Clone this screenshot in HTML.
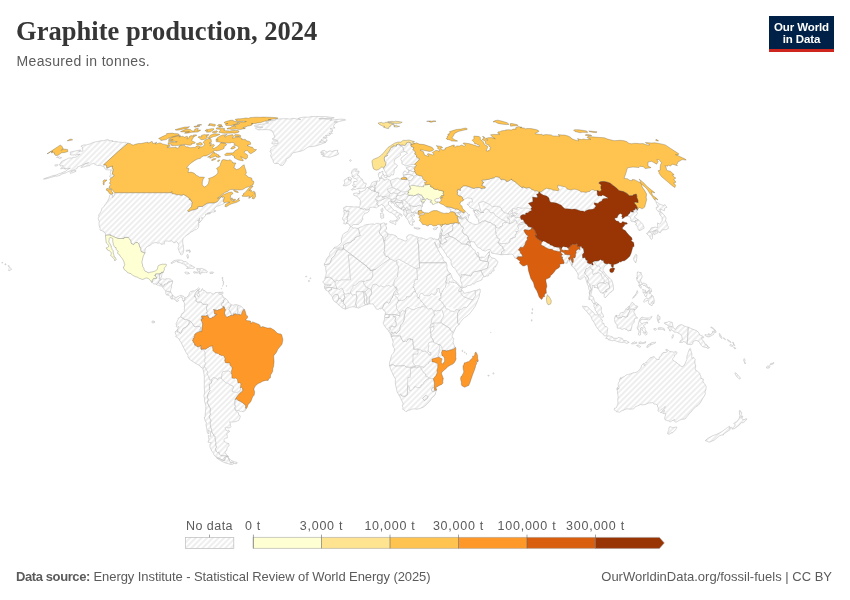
<!DOCTYPE html>
<html lang="en"><head><meta charset="utf-8"><title>Graphite production, 2024</title>
<style>
html,body{margin:0;padding:0;background:#fff;}
body{width:850px;height:600px;position:relative;overflow:hidden;font-family:"Liberation Sans",Arial,sans-serif;color:#5b5b5b;}
.title{position:absolute;left:16px;top:14.600px;font-family:"Liberation Serif","Times New Roman",serif;font-weight:bold;font-size:26.500px;line-height:32px;color:#363636;white-space:nowrap;letter-spacing:0.03px;}
.subtitle{position:absolute;left:16.500px;top:52px;font-size:14px;line-height:18px;letter-spacing:0.35px;color:#5b5b5b;white-space:nowrap;}
.logo{position:absolute;left:769px;top:16px;width:65px;height:33px;background:#002147;border-bottom:3px solid #ce261e;color:#fff;font-weight:bold;font-size:11.5px;line-height:12px;text-align:center;letter-spacing:-0.1px;}
.logo span{display:block;}
.logo span:first-child{margin-top:4.600px;}
#map{position:absolute;left:0;top:0;}
#map{stroke:#b4b4b4;}
#map path{stroke-width:0.5;stroke-linejoin:round;}
#map path.nf{stroke:none;}
#map path{stroke:inherit;}
.lg{position:absolute;font-size:12.500px;line-height:16px;color:#5b5b5b;white-space:nowrap;top:518px;transform:translateX(-50%);letter-spacing:0.75px;}
.foot{position:absolute;top:569px;font-size:13px;line-height:16px;color:#5b5b5b;white-space:nowrap;}
</style></head>
<body>
<div class="title">Graphite production, 2024</div>
<div class="subtitle">Measured in tonnes.</div>
<div class="logo"><span>Our World</span><span>in Data</span></div>
<svg id="map" width="850" height="600" viewBox="0 0 850 600">
<defs><pattern id="hatch" patternUnits="userSpaceOnUse" width="4" height="4" patternTransform="rotate(-45 2 2)"><rect x="-1" y="-1" width="6" height="6" fill="#fff" style="stroke:none"/><path d="M-1,2 l6,0" style="stroke:#cfcfcf;stroke-width:0.7"/></pattern></defs>
<path class="nf" fill="url(#hatch)" d="M220.8,378 216.1,378.1 213.1,377.5 211.4,379.8 209.8,380.2 208.6,376.6 207,373.7 207.5,371.1 206.2,370 205.7,368.1 204.4,366.4 205.6,363.5 204.4,361.3 204.9,360.4 204.4,359.5 205.2,358.2 205,356 205,354.1 205.4,353.2 203.2,349 212.7,345.9 224.4,356.4 230,363 232.1,367.9 232,378.1 240.7,383.2 240.4,387.7 238.5,392 231.9,391.3 233.6,387.3 227.7,383.2 221.3,378.6ZM375.2,199.6 379.2,192.7 376.4,192.2 374.9,189.9 387.3,189.4 392.7,187.4 400.9,191.7 408.5,192.5 407.7,194.3 409,195.5 404.4,200.1 410.1,205 410,209.9 411.4,212.5 407.4,213.8 406,210.2 402.6,207.1 403.1,203.2 401.6,200.6 396,198.1 391.2,199.1 388.3,198.3 384.2,198.1 380,199.9 376.9,200.4ZM421.1,201.7 420.4,198.3 416.9,194.8 421.2,195 423.5,198.1 424.5,199.4 422.6,199.1 422.2,199.6ZM408.6,180.4 410.6,180.4 412.4,179.4 412.7,178.2 414.1,177.2 413.7,176.2 414.8,175.7 416.7,174.7 418.8,175.5 419.3,176 420.2,175.7 422.2,176.2 422.6,177.4 422.4,178.2 423.8,179.7 424.7,180.2 424.6,180.7 426.1,181.2 426.8,181.7 426.2,182.4 424.5,182.2 424.2,182.4 424.8,183.4 425.7,184.9 423.9,185.2 423.4,185.7 423.7,186.9 422.8,186.7 421,186.7 420.4,186.2 419.6,186.7 418.8,186.2 417.4,186.2 414.9,185.7 412.9,185.4 411.5,185.4 410.4,186.2 409.5,186.2 409.3,185.2 408.5,183.9 409.7,183.4 409.5,182.4 408.8,181.4ZM336.5,288 350.5,293.2 356.2,291.6 362.9,291.6 367.9,289.3 371.2,289.8 372.3,285.1 394,284.8 397.1,288.5 398.5,294.3 396.1,304.2 399.8,314.4 405.6,311.3 407.9,307.3 426.1,306.8 434,311.3 441.3,309.4 444.3,306 459.6,310.2 472.9,299.5 461.2,291.6 460.1,287.7 449,283.3 441,295.6 417.2,296.9 414,287.5 417.5,279.6 416.9,269.2 396.5,260.5 389.9,259 372.7,270.2 351.9,255 348.3,255 350.3,279.9 335.9,281.7ZM430.5,332.2 434,323 441.2,322.9 441.3,309.4 434,311.3 431.2,323.8ZM413.3,354.4 418,349.2 428.2,353.6 433.8,342.1 442.3,350.5 441.5,356 444.6,362 442.7,364.3 438.9,357 432,359.1 437.7,364.8 436.8,373.5 433.4,378.7 426.1,380 419,387.6 409.5,388.1 407.9,377.4 410.4,368.2 420.1,366.4 412.9,362.5ZM481.3,212.5 483.5,201.4 489.8,204.5 498.3,206.3 501.3,208.1 504,212.8 508.4,214.1 512.2,209.9 517.2,209.4 522,208.1 531.7,209.9 520,216.1 523.6,220 525.2,223.4 518.2,225 515.6,237 509.9,242.2 498,242.5 495.6,234.1 495.7,227.1 502.6,225.5 506.2,222.6 500.3,218.7 493.9,213 489.1,210.2 483.6,212.5ZM539.7,192 546.6,188.2 559.2,189.2 558.2,185.2 567.2,188.9 579.5,190.7 590,191.5 597,190.4 598.4,196 607.8,197.8 602,201.2 596.1,206.3 584.5,211.7 564.9,208.9 549.6,201.2 549.1,198.1ZM541.1,245.1 542.6,241.5 554.7,247.2 559.4,247.5 560.2,250.3 561.3,249 567.5,247.7 568.7,250.3 560.2,251.4 552.2,249.3ZM589.8,267.1 591.9,264.5 593.3,265 593.7,261.6 600.6,268.4 601.8,271.5 608.8,280.7 605.6,284.1 603.6,283 602,277.5 599.5,272.8 595.2,273.1 593.2,274.7 592.9,269.4Z"/>
<g fill="url(#hatch)">
<path d="M9.6,270.5 9.1,270.9 8.6,270.6 8.9,269.8 8.7,268.9 8.9,268.6 9.4,268.2 9.3,267.7 9.5,267.4 9.7,267.5 10.5,267.9 10.8,268.1 11.1,268.5 11.5,269.4 11.4,269.6 10.4,270.1ZM9.3,266.4 8.5,266.6 8.2,266.1 8,265.9 8,265.7 8.3,265.5 9,265.7 9.5,266.1ZM6.1,264.7 6,264.8 5.8,264.8 5,264.7 4.9,264.1 4.8,264 5.5,263.6 5.7,263.8ZM2.7,262.9 2.4,263.2 1.7,262.7 1.9,262.5 2.3,262.3 2.8,262.3ZM73.2,172.5 70.3,173.4 70,172.8 70.9,171.7 73.6,170.8 75,170.4 76,170.6 76,171.3ZM57.8,156.6 58.3,157 59.7,156.8 60.3,157.4 61.7,157.7 61.2,158 59.2,158.5 58.5,158 58.4,157.5 56.7,157.7 56.5,157.5ZM57,164.6 58.2,164.8 57.3,165.7 55.7,166.1 55,165.7 54.7,165ZM109.1,140.1 108.9,141.1 110.2,140.6 112.8,140.8 112,141.3 114,141.6 116,141.4 118.6,142.1 121.5,142.3 122.4,142.6 125,142.2 126.7,142.9 128.1,143.2 118.2,151.5 103.6,164.8 105.4,164.9 106.5,165.5 106.7,166.6 106.8,168.1 109.9,166.8 112.6,166 112.3,167.3 112.6,168.3 113.3,169.4 112.9,171.1 112.3,173.9 114.2,175.4 112.9,177 110.8,178.2 110.5,177.2 109.5,176.5 110.8,174.3 110.2,172.3 111.3,170.1 109.6,169.9 106.7,169.8 105.2,169.1 103.8,166.6 102.5,166.2 100.2,165.3 97.4,165.5 95,164.4 93.9,163.4 91.3,163.9 89.9,165.6 88.7,165.7 86,166.2 83.5,167 80.9,167.5 82.2,166.2 85.6,163.8 88.3,163.1 88.5,162.5 84.7,163.8 81.7,165.4 77.1,167.1 77.2,168.3 73.6,170 70.4,171 67.7,171.8 66.1,172.8 61.8,174.1 60,175.3 56.6,176.3 55.5,176.1 53,176.8 50.1,177.6 47.6,178.5 43.6,179.2 43.7,178.8 47.1,177.6 49.8,176.8 53.2,175.5 55.9,175.2 58,174.2 62.2,172.7 63.1,172.2 65.5,171.4 67.8,169.5 70.4,168.1 67.4,168.8 67.2,168.4 65.2,169.3 65.4,168.1 63.9,169 64.6,167.8 61.6,168.7 60.5,168.7 62,167.3 63.3,166.4 63.2,165.6 60.2,166 60,164.9 59.4,164.3 61.1,163 60.9,162 63.3,160.6 66.4,159.3 68.6,158.1 70.3,157.9 71,158.3 73.9,157.2 75,157.4 77.2,156.6 78.2,155.6 77.8,155.2 80.2,154.3 79.1,154.3 76.6,154.8 75.4,155.3 74.6,154.8 71.8,155.1 70,154.5 70.5,153.6 70.1,152.2 73.8,151.3 79.2,150.2 80.6,150.2 78.8,151.3 82.6,151.2 83.1,149.8 82.1,149 82.5,147.8 82.2,146.9 80.9,146.2 83.5,145 86.6,144.9 90.1,143.9 92.1,142.9 95.3,141.9 97.3,141.6 101.8,140.6 103.1,140.8 107.3,139.6ZM172.1,191.7 171.7,193.1 172.1,193.6 173.5,193.7 175.3,194.1 176.9,194.9 178.7,194.6 180.9,195.2 181.6,195.2 183.7,194.5 185.2,195.4 186.8,196.4 188,197.3 189.3,198.1 189.2,198.7 189.6,199 189.3,199.3 189.8,199.3 190.4,199.1 190.2,199.7 190.5,200.1 191,200.1 191.2,200.4 190.8,200.8 192.4,202.1 191.9,204.4 191.5,206.6 190.3,208.2 188.8,209.6 187.9,210.5 187.8,210.7 187.9,211.1 188.5,211.5 189,211.5 191.9,210.1 194.3,209.7 197.5,208.5 197.6,208.2 197.7,207.4 197.6,206.9 198.7,206.5 200.7,206.5 202.6,206.5 203.7,205.5 204,205.3 206.9,203.4 208,203 211.1,202.9 214.9,202.9 215.3,202.3 216.1,202.2 217.1,201.8 218.2,200.6 219.5,198.6 221.7,196.7 222.2,197.3 223.7,196.9 224.4,197.6 223.2,201.2 224.1,202.6 224.2,203.4 221.5,204.7 219.1,205.6 216.6,206.3 215,207.9 214.5,208.4 214,209.8 214.3,211.2 215.1,211.3 215.2,210.3 215.7,210.9 215.3,211.6 213.7,212 212.7,212 211,212.4 210,212.6 208.8,212.7 206.8,213.5 210.1,213 210.5,213.5 207.3,214.2 206,214.2 206.1,213.9 205.2,214.7 205.8,214.8 204.8,216.6 202.6,218.6 202.7,218 202.3,217.8 201.8,217.2 201.8,218.6 202.2,219 201.9,220 200.9,221 199.1,223.1 199,223 200.1,221.2 199.3,220.2 199.7,218.1 199,219.2 198.9,220.9 197.6,220.5 198.9,221.3 198.3,223.8 198.8,223.9 198.8,224.9 198.4,227.5 196.5,229.4 194.1,230.2 192.3,231.7 191.1,231.9 189.8,232.8 189.2,233.7 186.4,235.4 184.9,236.7 183.4,238.2 182.7,240.1 182.7,241.9 182.9,244.1 183.5,246 183.3,247.1 183.8,250.1 183.4,251.9 183.2,252.9 182.4,254.5 181.6,254.8 180.6,254.5 180.4,253.4 179.7,252.8 178.9,250.5 178.2,248.5 178.1,247.5 178.9,245.8 178.5,244.3 177.3,242.1 176.5,241.7 174,242.9 173.6,242.8 172.8,241.6 171.6,240.9 169,241.3 167.1,241 165.4,241.1 164.4,241.6 164.6,242.3 164.3,243.3 164.7,243.8 164.2,244.2 163.4,243.8 162.5,244.3 160.9,244.2 159.6,242.8 157.5,243.2 156.1,242.5 154.7,242.7 152.6,243.3 150.1,245.3 147.7,246.4 146.2,247.6 145.4,248.8 145,250.6 144.8,251.9 145.1,252.8 144.2,252.8 142.7,252.3 141.1,251.5 140.8,250.2 140.7,248.4 139.7,246.9 139.3,245.4 138.6,243.6 137.4,242.5 135.5,242.6 133.6,244.7 132,243.9 131,243.1 130.9,241.7 130.5,240.3 129.6,239.1 128.7,238.3 128.2,237.4 124.3,237.4 124,238.5 122.2,238.5 117.9,238.5 113.4,236.6 110.5,235.4 110.9,234.9 108,235.1 105.5,235.3 105.6,234 104.7,232.5 103.8,232.2 103.9,231.4 102.7,231.3 102.2,230.6 100.3,230.3 99.9,229.9 100.2,228.5 99.2,225.9 99,222.2 99.4,221.6 98.8,220.8 98.2,218.6 99,216.5 98.6,215.1 100.2,212.9 101.3,210.7 101.8,208.7 104,206.3 105.6,203.9 107.3,201.6 109,198.2 109.7,196 109.9,194.8 110.5,194.3 112.9,195.2 112.4,197.6 113.4,196.9 114.3,194.8 115,192.7 120.7,192.7 126.7,192.7 128.7,192.7 134.9,192.7 140.8,192.7 146.9,192.7 152.9,192.7 159.8,192.7 166.7,192.7 170.9,192.7 171.4,191.8Z"/>
<path d="M298.7,118 303.9,117.1 308.6,117.2 310.7,116.6 315.5,116.5 326.2,116.7 334.3,117.8 331.6,118.4 326.3,118.5 318.8,118.7 319.3,118.9 324.3,118.8 328.3,119.3 331.2,118.8 332.1,119.4 330.3,120.4 334.1,119.8 341,119.1 345.1,119.4 345.8,120.1 339.8,121.3 338.9,121.7 334.2,122 337.5,122.1 335.5,123.4 334,124.6 333.6,126.7 335.1,128 332.7,128.1 330,128.7 332.6,129.8 332.5,131.5 330.8,131.7 332.5,133.4 329,133.6 330.6,134.4 329.9,135.2 327.6,135.5 325.4,135.5 327.1,136.9 326.9,137.9 323.9,137 322.9,137.6 325,138.1 326.8,139.4 327.1,141.1 324.1,141.5 323,140.7 321.2,139.5 321.5,140.9 319.3,142.1 323.6,142.2 325.9,142.3 321,144.2 316,145.9 310.9,146.7 309,146.7 307,147.6 304,150 299.8,151.5 298.6,151.6 296.1,152.2 293.4,152.7 291.4,154.2 290.9,155.8 289.5,157.3 286,159.2 286.1,161 284.6,163 283,165.3 280.3,165.4 278.3,163.5 274.6,163.5 273.3,162.2 273,159.9 271,157 270.7,155.4 271.4,153.4 269.9,151.3 271.2,149.6 270.4,148.8 273.3,146.2 276.2,145.4 277.3,144.4 278.4,142.7 276.2,143.5 275.1,143.8 273.4,144.1 271.7,143.4 272.4,141.9 273.6,140.8 275.1,140.7 278.2,141.3 276,140 275,139.2 273.2,139.5 272.1,139 275,137 274.4,136.2 274,134.8 273.4,132.6 271.9,131.8 272.5,130.9 269.2,129.8 266.1,129.6 261.9,129.7 258.1,129.9 256.8,129.2 255.3,128 259.7,127.4 262.9,127.2 256.9,126.7 254.2,126 255.1,125.2 261.5,124.3 267.7,123.4 268.8,122.8 265.5,122.1 267.4,121.4 273.4,120.3 275.6,120.1 275.6,119.3 279.3,118.9 283.8,118.7 288,118.7 289.2,119.2 293.5,118.3 296.4,118.9 298.2,119 300.8,119.5 298,118.7Z"/>
<path d="M156.6,284.5 155.5,284 154,284 153,283.5 151.9,282.4 152.1,281.6 152.4,281 152.1,280.5 153.5,278.4 156.4,278.4 156.6,277.5 156.2,277.3 156,276.8 155.3,276.2 154.5,275.3 155.6,275.3 155.7,273.8 157.9,273.8 160,273.8 159.7,275.9 159.2,278.9 159.8,278.9 160.5,279.3 160.8,278.9 161.4,279.3 160.3,280.3 159.1,281 158.9,281.5 159,282 158.5,282.7 157.9,282.9 158,283.2 157.5,283.5 156.7,284.1Z"/>
<path d="M160,273.8 160,273.4 160.3,273.3 160.7,273.7 161.7,272.1 162.1,272 162.1,272.4 162.5,272.4 162.4,273.1 161.9,274.3 162,274.7 161.7,275.6 161.8,275.9 161.3,277.2 160.8,277.9 160.4,278 159.8,278.9 159.2,278.9 159.7,275.9Z"/>
<path d="M161.8,285.4 161.5,286 160.1,286 159.3,285.7 158.4,285.2 157.2,285.1 156.6,284.5 156.7,284.1 157.5,283.5 158,283.2 157.9,282.9 158.5,282.7 159.1,282.9 159.6,283.4 160.2,283.9 160.3,284.2 161.3,283.9 161.7,284.1 162,284.4Z"/>
<path d="M162.8,286.5 162.5,285.6 161.8,285.4 162,284.4 161.7,284.1 161.3,283.9 160.3,284.2 160.2,283.9 159.6,283.4 159.1,282.9 158.5,282.7 159,282 158.9,281.5 159.1,281 160.3,280.3 161.4,279.3 161.6,279.4 162.2,278.9 162.8,278.9 163,279.1 163.4,279 164.4,279.2 165.5,279.1 166.3,278.9 166.6,278.5 167.3,278.7 167.8,278.9 168.4,278.8 168.9,278.6 169.9,278.9 170.2,279 170.9,279.5 171.5,280.1 172.3,280.5 172.8,281.2 172,281.1 171.7,281.5 170.8,281.8 170.3,281.8 169.7,282.2 169.3,282 168.9,281.7 168.7,281.7 168.3,282.4 168.1,282.3 168,282.9 167.2,283.6 166.7,283.9 166.4,284.2 165.8,283.7 165.3,284.4 164.8,284.4 164.2,284.5 164.2,285.7 163.8,285.8 163.5,286.3Z"/>
<path d="M166.1,291.4 165.3,290.6 164.3,289.5 163.9,288.7 163,287.8 161.9,286.7 162.2,286.3 162.6,286.7 162.8,286.5 163.5,286.3 163.8,285.8 164.2,285.7 164.2,284.5 164.8,284.4 165.3,284.4 165.8,283.7 166.4,284.2 166.7,283.9 167.2,283.6 168,282.9 168.1,282.3 168.3,282.4 168.7,281.7 168.9,281.7 169.3,282 169.7,282.2 170.3,281.8 170.8,281.8 171.7,281.5 172,281.1 172.8,281.2 172.6,281.4 172.4,282 172.6,283 172,283.9 171.6,284.9 171.4,286.1 171.5,286.8 171.5,287.9 171.1,288.2 170.8,289.3 170.9,290 170.4,290.7 170.4,291.4 170.8,291.8 170.2,292.3 169.5,292.2 169.2,291.6 168.5,291.4 167.9,291.8 166.4,291.1Z"/>
<path d="M171.9,298.9 170.7,298.3 170.3,297.8 170.6,297.3 170.5,296.7 169.9,296.1 169,295.6 168.3,295.3 168.2,294.5 167.6,294 167.7,294.8 167.2,295.4 166.7,294.7 166,294.4 165.7,293.9 165.8,293.1 166.1,292.3 165.5,291.9 166.1,291.4 166.4,291.1 167.9,291.8 168.5,291.4 169.2,291.6 169.5,292.2 170.2,292.3 170.8,291.8 171.3,293.2 172.1,294.3 173.1,295.4 172.2,295.6 172.1,296.7 172.6,297.1 172.2,297.4 172.3,297.8 172.1,298.4Z"/>
<path d="M183.5,301.5 182.8,300.8 182.3,299.4 183,298.6 182.4,298.5 182,297.6 180.9,296.9 179.9,297.1 179.4,298 178.4,298.6 177.9,298.7 177.6,299.3 178.7,300.7 178,301 177.7,301.4 176.6,301.5 176.3,300 175.9,300.4 175.2,300.2 174.8,299.2 173.8,299 173.3,298.7 172.3,298.7 172.2,299.3 171.9,298.9 172.1,298.4 172.3,297.8 172.2,297.4 172.6,297.1 172.1,296.7 172.2,295.6 173.1,295.4 173.9,296.3 173.8,296.9 174.7,297 174.9,296.8 175.5,297.4 176.7,297.2 177.7,296.6 179.1,296.1 179.9,295.3 181.2,295.4 181.1,295.7 182.4,295.8 183.4,296.2 184.1,297 184.9,297.7 184.6,298.1 185.1,299.6 184.6,300.4 183.9,300.2Z"/>
<path d="M177.4,259.8 179.3,260 181,260 183.1,260.9 183.8,261.8 186,261.6 186.7,262.2 188.4,263.8 189.7,265 190.4,264.9 191.7,265.4 191.5,266.2 193.1,266.3 194.7,267.4 194.4,268 192.9,268.3 191.3,268.5 189.8,268.2 186.5,268.5 188.2,267 187.3,266.4 185.9,266.2 185.2,265.4 184.8,263.9 183.6,264 181.5,263.3 180.9,262.8 178,262.4 177.3,261.9 178.2,261.2 176,261.1 174.2,262.4 173.3,262.5 172.9,263.1 171.7,263.4 170.8,263.1 172.1,262.4 172.7,261.4 173.8,260.8 175,260.3 176.8,260.1Z"/>
<path d="M196.9,268.3 198.2,268.5 200.2,268.9 200.2,270.3 199.9,271.3 199.3,271.7 199.8,272.5 199.7,273.2 198.3,272.8 197.2,273 195.8,272.8 194.7,273.3 193.5,272.5 193.8,271.6 195.9,272 197.6,272.2 198.5,271.6 197.5,270.5 197.7,269.5 196.3,269.1Z"/>
<path d="M200.2,268.9 200.5,268.4 202.3,268.4 203.5,269.1 204.1,269 204.5,270 205.7,269.9 205.6,270.7 206.6,270.8 207.6,271.7 206.6,272.8 205.6,272.2 204.6,272.4 203.8,272.2 203.4,272.7 202.5,272.9 202.2,272.2 201.4,272.6 200.3,274.4 199.8,274 199.7,273.2 199.8,272.5 199.3,271.7 199.9,271.3 200.2,270.3Z"/>
<path d="M186.5,272.1 188,272.3 189.1,272.9 189.5,273.6 187.9,273.7 187.1,274.1 185.9,273.7 184.7,272.7 185,272.2 186,272Z"/>
<path d="M212.2,272 213.3,272.2 213.7,272.7 213,273.4 211.3,273.4 210,273.5 210,272.4 210.3,272Z"/>
<path d="M188.2,258.3 187.7,258.4 187.3,256.9 186.6,256.1 187.3,254.5 188,254.6 188.4,256.8ZM188.7,250.9 186.2,251.3 186.2,250.4 187.3,250.2 188.7,250.2ZM190.5,250.9 189.9,252.7 189.5,252.4 189.7,251 188.9,250 189,249.7Z"/>
<path d="M221.2,292.3 222.5,291.9 223,292 222.8,294 220.9,294.3 220.5,294 221.2,293.3Z"/>
<path d="M236.8,463.6 235,463.7 233.7,462.9 232.5,462.8 230.4,462.8 228,457.2 229.2,458.4 231,460.3 234.2,461.7 237.2,462.4ZM216.1,378.1 217.6,380 218.3,377.9 220.8,378 221.3,378.6 225.9,382.8 227.7,383.2 230.7,385.2 233.1,386.2 233.6,387.3 231.9,391.3 234.2,392 236.8,392.4 238.5,392 240.3,390 240.4,387.7 241.4,387.2 242.7,388.7 242.9,390.8 241.2,392.2 239.8,393.3 237.7,395.8 235.2,399.4 235,401.5 234.9,404.2 235.4,406.8 235,407.4 235.1,409 235.3,410.4 238.5,412.7 238.5,414.5 240.1,415.6 240.3,416.9 238.9,420.2 236,421.6 231.9,422.1 229.5,421.9 230.3,423.4 230.4,425.4 231.1,426.7 230.1,427.6 228,428 225.7,427 225.1,427.7 226.1,430.3 227.8,431 228.7,430.2 229.7,431.6 228,432.4 226.8,434 227.3,436.6 227.2,438 225.3,438 224.1,439.3 224.1,441.2 226.8,443.1 228.9,443.6 229,445.9 227.1,447.3 226.8,450.3 225.4,451.3 225,452.4 226.7,455.1 228.7,456.5 227.8,456.4 225.8,456 220.9,455.7 219.4,454.2 218.7,452.3 217.4,452.5 216.3,451.6 215.1,448.9 216.2,447.8 216.2,446.1 215.5,444.9 215.8,442.7 215.3,439.3 214.6,437.8 215.3,437.3 214.8,436.3 213.6,435.8 213.9,434.7 212.7,433.8 211.2,430.8 211.9,430.2 210.5,427.1 210.2,424.4 210.1,422.1 211.1,421.2 209.8,418.6 209.1,416.2 210.4,414.5 209.8,412.3 210.4,409.8 209.9,407.4 209.2,406.9 207.2,402.4 208.1,399.7 207.4,397.2 207.7,394.8 208.8,392.3 210.1,390.7 209.3,389.7 209.7,388.9 209,384.5 211.3,383.2 211.8,380.5 211.4,379.8 213.1,377.5Z"/>
<path d="M228,457.2 230.4,462.8 232.5,462.8 233.7,462.9 233.5,463.8 232.2,464.6 231.2,464.5 230,464.3 228.2,463.6 226,463.2 223,461.9 220.4,460.5 216.4,457.7 218.2,458.3 221.8,459.9 224.7,460.8 225.2,459.7 225.1,458 226.5,456.9ZM208.6,376.6 209.8,380.2 211.4,379.8 211.8,380.5 211.3,383.2 209,384.5 209.7,388.9 209.3,389.7 210.1,390.7 208.8,392.3 207.7,394.8 207.4,397.2 208.1,399.7 207.2,402.4 209.2,406.9 209.9,407.4 210.4,409.8 209.8,412.3 210.4,414.5 209.1,416.2 209.8,418.6 211.1,421.2 210.1,422.1 210.2,424.4 210.5,427.1 211.9,430.2 211.2,430.8 212.7,433.8 213.9,434.7 213.6,435.8 214.8,436.3 215.3,437.3 214.6,437.8 215.3,439.3 215.8,442.7 215.5,444.9 216.2,446.1 216.2,447.8 215.1,448.9 216.3,451.6 217.4,452.5 218.7,452.3 219.4,454.2 220.9,455.7 225.8,456 227.8,456.4 226,456.4 225.3,457 223.9,457.9 224.7,460.2 223.9,460.3 221.3,459.5 218.3,457.7 215.2,456.3 213.8,454.7 213.7,453.2 212,451.6 210,447.2 209.9,444.8 211.3,442.8 207.9,442.1 209,439.8 208.2,435.5 210.8,436.4 210.1,431.1 208.5,430.4 208.9,433.7 207.5,433.3 206.9,429.6 206,424.8 206.5,423 205.1,420.5 204.2,417.5 205,417.4 205.3,413.2 205.8,409 205.8,405.2 204.5,401.2 204.7,399.1 203.9,395.8 204.6,392.7 204.3,387.6 204.3,382.2 204.3,376.3 203.7,372.1 202.8,368.4 203.9,367.7 204.4,366.4 205.7,368.1 206.2,370 207.5,371.1 207,373.7Z"/>
<path d="M235.2,399.4 236.6,399.1 239.2,401.1 240,401 242.5,402.7 244.5,404.2 246,406 245.3,407.2 246.1,408.7 245.5,410.3 243.3,411.8 241.6,411.2 240.4,411.5 238.2,410.4 236.8,410.5 235.1,409 235,407.4 235.4,406.8 234.9,404.2 235,401.5Z"/>
<path d="M204.4,366.4 203.9,367.7 202.8,368.4 200.4,366.9 200.1,365.8 195.3,363.2 191,360.3 189,358.7 187.9,356.5 188.2,355.8 186,352.3 183.5,347.5 181,342.3 180,341.1 179.2,339.2 177.3,337.5 175.6,336.5 176.3,335.3 175.1,332.8 175.8,331 177.6,329.3 177.9,330.4 177.3,331 177.4,332 178.3,331.8 179.2,332 180.2,333.4 181.5,332.3 181.9,330.5 183.3,328.2 186,327.2 188.5,324.5 189.2,322.8 188.9,320.8 189.5,320.6 191,321.8 191.8,323 192.8,323.7 194.2,326.4 195.9,326.8 197.2,326.1 198.1,326.5 199.4,326.3 201.2,327.5 199.8,330.2 200.5,330.3 201.7,331.6 199.6,331.5 199.3,331.9 197.4,332.4 194.8,334.2 194.7,335.4 194.1,336.3 194.4,337.7 193.1,338.5 193.1,339.6 192.5,340.1 193.6,342.4 194.9,344 194.5,345.1 196,345.3 197,346.7 199,346.8 200.8,345.2 200.9,349.2 201.9,349.5 203.2,349 205.4,353.2 205,354.1 205,356 205.2,358.2 204.4,359.5 204.9,360.4 204.4,361.3 205.6,363.5Z"/>
<path d="M177.6,329.3 178.8,327.4 178.3,326.2 177.4,327.4 176,326.3 176.5,325.6 176,323.2 176.8,322.8 177.2,321.1 178.1,319.5 178,318.4 179.2,317.8 180.8,316.8 183.1,318.3 183.6,318.2 184.1,319.4 186.1,319.7 186.7,319.3 187.9,320.2 188.9,320.8 189.2,322.8 188.5,324.5 186,327.2 183.3,328.2 181.9,330.5 181.5,332.3 180.2,333.4 179.2,332 178.3,331.8 177.4,332 177.3,331 177.9,330.4Z"/>
<path d="M188.9,320.8 187.9,320.2 186.7,319.3 186.1,319.7 184.1,319.4 183.6,318.2 183.1,318.3 180.8,316.8 180.5,316 181.4,315.8 181.3,314.5 181.9,313.5 183,313.3 184,311.7 185,310.3 184.1,309.7 184.6,308.2 184.2,305.8 184.7,305.1 184.4,302.9 183.5,301.5 183.9,300.2 184.6,300.4 185.1,299.6 184.6,298.1 184.9,297.7 186.1,297.8 187.9,296 188.9,295.7 188.9,294.9 189.5,292.6 190.9,291.4 192.3,291.4 192.5,290.8 194.3,291 196.2,289.7 197.1,289.1 198.4,287.9 199.1,288 199.7,288.7 199.2,289.6 197.7,290 197,291.4 196.1,292.1 195.4,293.1 195,294.9 194.3,296.5 195.5,296.6 195.7,297.8 196.2,298.4 196.3,299.5 196,300.5 196.1,301 196.6,301.2 197.1,302.1 200.1,301.9 201.4,302.2 203,304.5 203.9,304.2 205.6,304.3 206.9,304 207.7,304.5 207.2,305.9 206.7,306.8 206.5,308.6 206.9,310.4 207.5,311.1 207.6,311.7 206.4,313 207.2,313.6 207.8,314.5 208.5,317.1 208,317.4 207.6,315.9 207,315.1 206.2,316 201.7,315.9 201.7,317.6 203.1,317.8 203,318.8 202.5,318.5 201.2,319 201.2,320.9 202.2,321.8 202.6,323.3 202.6,324.5 201.7,331.6 200.5,330.3 199.8,330.2 201.2,327.5 199.4,326.3 198.1,326.5 197.2,326.1 195.9,326.8 194.2,326.4 192.8,323.7 191.8,323 191,321.8 189.5,320.6Z"/>
<path d="M199.2,289.6 199.1,290.2 197.7,290.5 198.4,291.7 198.3,293.1 197.2,294.6 198,296.7 199,296.5 199.6,294.6 198.9,293.7 198.9,291.7 201.8,290.7 201.6,289.4 202.5,288.6 203.2,290.4 204.8,290.5 206.2,291.9 206.2,292.8 208.3,292.8 210.7,292.6 212,293.7 213.7,294 215.1,293.2 215.1,292.6 218,292.4 220.7,292.4 218.8,293.2 219.5,294.4 221.3,294.6 223,295.9 223.3,298 224.5,297.9 225.4,298.5 223.5,300.1 223.2,301 224,302 223.4,302.5 222,302.9 222,304.1 221.4,304.8 222.9,306.8 223.1,307.5 222.3,308.5 219.7,309.5 218,309.9 217.3,310.5 215.5,309.9 213.8,309.6 213.4,309.8 214.4,310.5 214.3,312.2 214.6,313.9 216.5,314.1 216.6,314.6 215,315.4 214.7,316.5 213.7,316.9 212,317.5 211.5,318.3 209.7,318.5 208.5,317.1 207.8,314.5 207.2,313.6 206.4,313 207.6,311.7 207.5,311.1 206.9,310.4 206.5,308.6 206.7,306.8 207.2,305.9 207.7,304.5 206.9,304 205.6,304.3 203.9,304.2 203,304.5 201.4,302.2 200.1,301.9 197.1,302.1 196.6,301.2 196.1,301 196,300.5 196.3,299.5 196.2,298.4 195.7,297.8 195.5,296.6 194.3,296.5 195,294.9 195.4,293.1 196.1,292.1 197,291.4 197.7,290Z"/>
<path d="M225.4,298.5 226.8,299.5 228.2,301.2 228.2,302.5 229.1,302.6 230.3,303.9 231.2,304.8 230.7,307.1 229.3,307.8 229.4,308.4 229,309.8 230,311.7 230.7,311.7 231,313.2 232.4,315.4 231.8,315.5 230.5,315.3 229.8,316 228.7,316.5 228,316.6 227.7,317.1 226.6,316.9 225.2,315.7 225,314.5 224.5,313.2 224.9,311 225.5,310 225,308.8 224.3,308.5 224.6,307.3 224.1,306.7 222.9,306.8 221.4,304.8 222,304.1 222,302.9 223.4,302.5 224,302 223.2,301 223.5,300.1Z"/>
<path d="M231.2,304.8 233.9,305.3 234.2,304.8 236.1,304.6 238.5,305.3 237.3,307.6 237.4,309.4 238.3,310.9 237.9,312.1 237.6,313.3 237.1,314.4 235.7,313.8 234.6,314.1 233.7,313.8 233.5,314.6 233.8,315.1 233.6,315.6 232.4,315.4 231,313.2 230.7,311.7 230,311.7 229,309.8 229.4,308.4 229.3,307.8 230.7,307.1Z"/>
<path d="M241.6,313.9 240.7,314.9 239.6,315 239.3,314.3 238.8,314.2 238,314.9 237.1,314.4 237.6,313.3 237.9,312.1 238.3,310.9 237.4,309.4 237.3,307.6 238.5,305.3 239.3,305.6 241,306.3 243.4,308.5 243.7,309.5 242.3,311.9Z"/>
<path d="M343.9,210.9 344.6,210.4 345.5,209.9 346,211.2 347.3,211.2 347.5,210.9 348.8,210.9 349.4,212.2 348.3,213 348.2,215.1 348,215.4 347.8,216.7 346.9,216.9 347.7,218.5 347,220 347.9,220.8 347.4,221.6 346.7,222.6 346.7,223.4 345.8,224.2 344.8,223.7 343.7,223.9 344.2,221.9 344,220.3 343,220 342.6,219.3 342.8,217.4 343.7,216.4 343.8,215.4 344.2,213.8 344.3,212.8 343.9,212Z"/>
<path d="M343.9,210.9 344,209.1 343.2,208.1 346.2,206.3 348.7,206.6 351.6,206.6 353.9,207.1 355.6,206.8 358.9,207.1 359.8,208.1 363.5,209.1 364.4,208.6 366.7,209.9 369.2,209.4 369.2,210.9 367.3,212.8 364.6,213.3 364.4,214.1 363.1,215.6 362.3,217.7 363.1,219.3 361.8,220.3 361.4,222.1 359.9,222.6 358.4,224.5 355.6,224.5 353.4,224.5 352.1,225.5 351.2,226.6 350.1,226.3 349.5,225.2 348.9,223.9 346.7,223.4 346.7,222.6 347.4,221.6 347.9,220.8 347,220 347.7,218.5 346.9,216.9 347.8,216.7 348,215.4 348.2,215.1 348.3,213 349.4,212.2 348.8,210.9 347.5,210.9 347.3,211.2 346,211.2 345.5,209.9 344.6,210.4Z"/>
<path d="M383.1,210.2 382.3,212.2 381.5,211.7 380.8,209.9 381.2,209.1 382.6,208.1ZM370.1,189.2 371.5,190.4 372.5,190.2 374.4,191.5 374.8,191.7 375.4,191.5 376.4,192.2 379.2,192.7 378.3,194.5 378.2,196.3 377.6,196.8 376.6,196.5 376.8,197.1 375.2,198.6 375.2,199.6 376.2,199.4 376.9,200.4 376.9,201.2 377.6,202.2 376.8,203 377.4,204.8 378.5,205.3 378.3,206.3 376.5,207.8 372.5,207.1 369.4,207.8 369.2,209.4 366.7,209.9 364.4,208.6 363.5,209.1 359.8,208.1 358.9,207.1 360,205.5 360.4,200.4 358.4,197.6 356.8,196.3 353.8,195.3 353.6,193.5 356.2,193 359.7,193.7 359.1,190.7 360.9,192 365.5,189.9 366.1,187.9 367.9,187.4 368.3,188.2 369.1,188.2Z"/>
<path d="M369.5,186.9 370.8,186.9 372.8,186.4 374,187.7 375.3,188.2 374.9,189.9 374.5,189.9 374.4,191.5 372.5,190.2 371.5,190.4 370.1,189.2 369.1,188.2 368.3,188.2 367.9,187.4Z"/>
<path d="M374.8,181.4 376.4,181.4 376.8,182.4 376.3,184.7 375.9,185.4 374.8,185.4 375.3,188.2 374,187.7 372.8,186.4 370.8,186.9 369.5,186.9 370.4,186.2 372.1,182.4Z"/>
<path d="M382,177.7 382.1,178.7 384.2,179.2 384.1,180.2 386.2,179.7 387.1,178.9 389.3,179.9 390.4,180.7 391.1,182.2 390.5,182.7 391.2,183.7 391.9,184.9 391.8,185.9 392.7,187.4 392,187.7 391.3,187.4 391,187.9 389.4,188.4 388.9,188.9 387.3,189.4 387.8,190.2 388,191.5 389.1,192 390.4,193 389.6,194.3 389.1,194.5 389.4,196.3 389.2,196.5 388.5,196 387.5,196 386.1,196.5 384.3,196.3 384.1,197.1 383.1,196.3 382.5,196.5 380.2,195.8 379.8,196.3 378.2,196.3 378.3,194.5 379.2,192.7 376.4,192.2 375.4,191.5 375.3,190.4 374.9,189.9 375.3,188.2 374.8,185.4 375.9,185.4 376.3,184.7 376.8,182.4 376.4,181.4 376.7,180.9 378.3,180.9 378.7,181.4 380,180.2 379.6,179.2 379.3,177.7 380.9,178.2Z"/>
<path d="M387.3,176.2 386.3,178.2 384,176.7 383.8,175.7 386.6,175ZM383.7,174 383.3,175 382.8,174.7 381.3,176.5 382,177.7 380.9,178.2 379.3,177.7 378.5,176.5 378.3,174 378.7,173.3 379,172.5 380.7,172.3 381.4,171.8 382.9,171.1 382.8,172.3 382.4,173 382.7,173.8Z"/>
<path d="M392.7,187.4 391.8,185.9 391.9,184.9 391.2,183.7 390.5,182.7 391.1,182.2 390.4,180.7 391.7,179.9 394.7,178.9 396.9,177.9 398.9,178.4 399.1,179.2 401.1,179.2 403.4,179.4 406.9,179.4 407.9,179.7 408.6,180.4 408.8,181.4 409.5,182.4 409.7,183.4 408.5,183.9 409.3,185.2 409.5,186.2 410.8,188.4 410.7,189.2 409.7,189.4 408.2,191.5 408.9,192.7 408.5,192.5 406.3,191.5 405,192 404,191.7 402.8,192.2 401.7,191.2 400.9,191.7 399.8,190.2 398.2,190.2 398.1,189.2 396.7,188.9 396.3,189.7 395.3,189.2 395.2,188.4 393.8,188.2Z"/>
<path d="M406.9,179.4 406.8,178.7 406.9,177.9 405.9,177.7 403.9,177.2 403.2,175.2 405.2,174.5 408.5,174.5 410.3,174.2 410.6,174.7 411.6,175 413.7,176.2 414.1,177.2 412.7,178.2 412.4,179.4 410.6,180.4 408.6,180.4 407.9,179.7Z"/>
<path d="M403.2,175.2 403,173.3 403.7,171.8 405.2,170.8 407.1,172.8 408.6,172.8 408.6,170.8 410.2,170.3 411.1,170.8 412.9,171.6 414.4,171.6 415.5,172.3 415.9,173.3 416.7,174.7 414.8,175.7 413.7,176.2 411.6,175 410.6,174.7 410.3,174.2 408.5,174.5 405.2,174.5Z"/>
<path d="M408.6,170.8 408.6,169.4 408.1,169.6 406.6,168.9 406.2,167.4 408.5,166.7 410.8,166.5 412.8,167 414.8,166.7 415.1,167.2 414,168.7 415,170.8 414.4,171.6 412.9,171.6 411.1,170.8 410.2,170.3Z"/>
<path d="M410.9,144.5 410.9,146.1 414,147.7 412.9,149.5 415.4,152 414.7,154 416.7,155.6 416.3,157 419.4,158.7 418.9,159.8 417.6,161.2 414.5,164.3 411.2,164.6 408,165.3 405.2,166 403.9,164.6 401.9,163.9 401.9,161.5 400.8,159.4 401.3,158 402.7,156.6 406.3,154 407.4,153.6 407.1,152.6 404.4,151.5 403.7,150.6 402.9,147.2 400,145.6 397.4,144.5 398.3,143.9 400.6,145.2 402.7,145 404.6,145.6 406,144.5 406.5,143 408.8,142.1 411.1,143Z"/>
<path d="M401.6,152.2 400.1,153.8 400.7,155.2 398.1,157 394.9,159.1 394,162.4 395.5,164.1 397.5,165.3 396.2,167.9 394.3,168.7 394,172.8 393.3,175 391,174.7 390,176.7 387.7,176.7 386.9,174.5 385.2,171.8 383.4,168.2 384.2,167 385.6,165.3 385.8,162.4 384.6,161.2 384.2,158.2 385.2,155.9 387,156.1 387.4,155.2 386.8,154.2 389.1,151 390.5,148.6 391.4,147 393,147 393.3,145.6 396.5,146.1 396.4,144.5 397.4,144.5 400,145.6 402.9,147.2 403.7,150.6 404.4,151.5Z"/>
<path d="M351.9,178.7 350.8,180.4 349.3,179.9 348.1,179.9 348.6,178.7 348.3,177.4 350,177.2ZM357.3,168.9 355.2,171.3 357.1,171.1 359.1,171.1 358.7,173 357,175.2 358.9,175.5 360.8,178.7 362.1,178.9 363.3,181.9 363.9,182.9 366.2,183.4 366.1,184.9 365.1,185.7 365.7,186.9 364.1,188.2 361.3,188.2 357.9,188.9 356.9,188.4 355.7,189.7 353.9,189.4 352.5,190.2 351.3,189.7 354.4,187.2 356.2,186.7 353,186.2 352.4,185.2 354.6,184.4 353.5,183.2 353.9,181.4 356.8,181.7 357.3,180.2 355.9,178.7 353.6,178.2 353.1,177.4 353.9,176.5 353.3,175.7 352.1,177 352.2,174.5 351.3,173.3 352,170.8 353.6,168.9 355.1,168.9Z"/>
<path d="M350.8,180.4 351.2,182.2 349.5,184.4 345.9,185.9 343.1,185.7 344.9,182.9 344,180.4 346.9,178.4 348.3,177.4 348.6,178.7 348.1,179.9 349.3,179.9Z"/>
<path d="M337.9,150.4 337.3,152 339.1,153.6 336.6,155.2 331.2,156.8 329.6,157.3 327.3,157 322.5,156.1 324.4,155.2 320.8,154 324,153.6 324.1,152.9 320.5,152.4 321.9,150.8 324.7,150.6 327,152.2 329.9,150.8 332,151.5 334.9,150.4Z"/>
<path d="M396.2,220.6 395.7,222.6 395.9,223.4 395.6,224.7 393.8,223.7 392.7,223.4 389.6,222.1 390,220.8 392.3,221.1 394.7,220.8ZM382.4,212.8 383.7,214.6 383.6,218 382.6,218 381.7,218.7 380.8,218 380.7,214.8 380.3,213.3 381.3,213.5ZM388.3,198.3 391.2,199.1 391.1,200.4 391.6,201.4 389.9,201.2 388.3,201.9 388.6,203.2 388.4,204 389.1,205.3 391.1,206.6 392.2,208.6 394.7,210.7 396.4,210.7 397.1,211.5 396.5,212 398.4,212.8 400,213.5 402,214.8 402.2,215.4 401.9,216.4 400.5,215.1 398.8,214.8 397.8,216.4 399.6,217.4 399.5,218.7 398.4,219 397.5,221.1 396.7,221.3 396.6,220.6 396.9,219 397.3,218.5 396.4,217.2 395.7,215.9 394.8,215.4 394.1,214.3 392.8,213.8 391.7,212.8 390.2,212.5 388.4,211.5 386.4,209.7 384.9,208.4 384.1,205.8 383.1,205.5 381.4,204.5 380.4,205 379.4,206 378.3,206.3 378.5,205.3 377.4,204.8 376.8,203 377.6,202.2 376.9,201.2 376.9,200.4 377.9,200.9 379,200.9 380,199.9 380.4,200.4 381.4,200.4 381.8,199.4 383.2,199.6 384.2,199.1 384.2,198.1 385.4,198.3 385.8,198.1 387.8,197.6Z"/>
<path d="M391.2,199.1 392.9,199.4 393.8,198.6 395.7,198.6 396,198.1 396.5,198.3 396.9,199.1 395.4,199.9 395.2,200.9 394.4,201.2 394.5,201.7 393.6,201.7 393,201.4 392.6,201.7 391.2,201.7 391.6,201.4 391.1,200.4Z"/>
<path d="M401.6,200.6 402.3,201.7 403,202.4 402.2,203.2 401.4,202.7 399.9,202.7 398,202.4 397,202.4 396.6,203 395.9,202.4 395.6,203.5 396.5,204.5 397.3,205.5 398.1,206.3 399,207.1 400,208.1 401.9,208.9 401.7,209.4 399.6,208.4 398.2,207.6 396.3,206.8 394.5,205 394.9,204.8 393.8,203.7 393.7,202.7 392.5,202.4 391.8,203.5 391.2,202.7 391.2,201.7 392.6,201.7 393,201.4 393.6,201.7 394.5,201.7 394.4,201.2 395.2,200.9 395.4,199.9 396.9,199.1 397.6,199.4 399.1,200.4 401,200.9Z"/>
<path d="M402.2,203.2 403.1,203.2 402.6,204.5 403.7,205.5 403.6,206.6 403,206.8 402.6,207.1 402,207.6 401.9,208.9 400,208.1 399,207.1 398.1,206.3 397.3,205.5 396.5,204.5 395.6,203.5 395.9,202.4 396.6,203 397,202.4 398,202.4 399.9,202.7 401.4,202.7Z"/>
<path d="M404.5,209.4 404.2,208.9 403.5,210.2 403.8,210.9 403.3,210.8 402.6,209.9 401.7,209.4 401.9,208.9 402,207.6 402.6,207.1 403,206.8 403.6,207.1 403.9,207.6 404.7,207.8 405.4,208.4 405.1,209.1Z"/>
<path d="M406.5,213 407.4,213.8 407.5,214.3 406.9,214.8 406.7,215.6 406,216.9 405.5,216.7 405.4,216.1 404.1,215.1 403.8,214.1 403.9,212.2 404,211.5 403.8,210.9 403.5,210.2 404.2,208.9 404.5,209.4 405.1,209.1 405.6,209.9 406,210.2 406.3,210.9 406.2,212Z"/>
<path d="M414.3,227.1 415.5,227.9 417.2,227.9 419,227.9 418.8,228.4 420.1,228.1 419.9,228.9 416.7,229.2 416.6,228.6 414,228.1ZM419,211.7 418.6,213.5 418.2,213.8 416.7,213.5 415.6,213.5 413.2,214.1 414.8,215.6 413.8,216 412.5,216 411.3,214.6 410.9,215.1 411.5,216.7 412.9,218 412.1,218.6 413.3,219.8 414.4,220.6 414.5,221.9 412.6,221.3 413.3,222.6 412.1,222.9 413.1,225.2 411.6,225.2 409.8,224.2 408.8,222.1 408.2,220.3 407.2,219 406,217.7 406,216.9 406.7,215.6 406.9,214.8 407.5,214.3 407.4,213.8 408.9,213.5 409.7,213 410.7,213 411.1,212.5 411.4,212.5 413,212.5 414.6,211.7 416.2,212.8 418.1,212.5 417.9,211.2Z"/>
<path d="M410.1,205 410.6,206 411.4,205.8 413.2,206.3 416.3,206.3 417.3,205.8 419.5,205 421.2,206 422.5,206.3 421.4,207.3 421,209.1 421.9,210.7 419.9,210.4 417.9,211.2 418.1,212.5 416.2,212.8 414.6,211.7 413,212.5 411.4,212.5 411.1,210.7 410,209.9 410.1,209.4 409.9,209.1 410.3,208.4 411,207.6 409.9,206.6 409.5,205.5Z"/>
<path d="M409,195.5 409.8,195 411.2,195.3 412.5,195.3 413.6,196 414.1,195.5 415.5,195.3 416.1,194.8 416.9,194.8 417.5,195 418.2,195.8 419.2,196.8 420.4,198.3 420.8,199.4 420.7,200.6 421.1,201.7 422.2,202.2 422.9,201.7 424,202.2 424.2,203 423.2,203.5 422.5,203.2 422.5,206.3 421.2,206 419.5,205 417.3,205.8 416.3,206.3 413.2,206.3 411.4,205.8 410.6,206 410.1,205 409.6,204.5 410,204 409.5,203.7 408.8,204.2 407.7,203.5 407.3,202.4 406.1,201.9 405.8,201.2 404.4,200.1 406,199.6 407.1,197.8 407.9,196Z"/>
<path d="M433.2,228.6 434.1,228.6 434.4,227.9 436.1,227.9 438,227.1 436.6,228.4 436.9,228.9 434.9,229.9 433.7,229.7Z"/>
<path d="M450.7,212 450.7,210.7 450,209.1 448.5,208.1 447.2,207.8 446.4,207.1 446.6,206.6 448.3,207.1 451.6,207.6 454.8,208.9 455,209.1 456.2,208.9 458.4,209.4 459.3,210.4 460.7,210.9 460.1,211.5 461.5,212.8 461.3,213 460.2,213 458.4,212.2 458,212.8 455.2,213 452.8,211.7Z"/>
<path d="M455.2,213 458,212.8 458.6,213.3 459.5,213.8 459.2,214.3 460.5,215.4 460,216.1 461,216.9 462.1,217.2 462.5,219 461.6,219.3 460.5,217.7 460.4,217.2 459.6,217.2 458.8,216.7 458.4,216.7 457.4,215.9 455.8,215.1 455.8,214.1Z"/>
<path d="M458.8,216.7 459.6,217.2 460.4,217.2 460.5,217.7 461.6,219.3 460.3,218.7 458.9,217.7 458.4,216.7ZM463.1,212.8 464,212.8 464.3,212.2 465.4,211.2 466.7,212.5 468.1,214.3 469.3,214.6 470,215.1 468.4,215.4 468.4,217.4 468.1,218.5 467.6,219 467.8,220.3 467.2,220.3 465.7,219 466.3,217.7 465.5,216.9 464.7,217.2 462.5,219 462.1,217.2 461,216.9 460,216.1 460.5,215.4 459.2,214.3 459.5,213.8 458.6,213.3 458,212.8 458.4,212.2 460.2,213 461.3,213 461.5,212.8 460.1,211.5 460.7,210.9 461.3,211.2Z"/>
<path d="M351.6,226.8 352.9,228.1 355.1,227.9 357.2,228.4 358.1,228.4 359,230.2 359.2,231.8 359.8,234.4 360.5,234.9 360,236 357.2,236.5 356.1,237.5 355,237.8 354.7,239.6 352.1,240.7 351.4,242 349.4,242.8 347.1,243 343.5,245.1 343.5,248 343.3,248 343.2,249.6 341.9,249.6 341.2,250.1 340.1,250.1 339.2,249.8 337.4,250.1 336.7,252.2 336,252.4 334.8,255.6 331.6,258.4 330.8,262.1 329.9,263.1 329.4,264.2 324.4,264.5 324.5,263.1 325.4,262.4 326.1,261.1 326.1,260.3 326.9,258.4 328.3,256.6 328.9,256.4 329.7,254.8 329.7,253.5 330.6,251.6 332,250.9 333.7,248.2 334.8,247.2 336.8,246.9 338.6,245.1 339.8,244.3 341.6,242.2 341.3,238.8 342.2,236.7 342.5,235.2 343.8,233.6 346.1,232.3 347.8,231.3 349.4,228.6 350.1,226.8Z"/>
<path d="M389.9,259 382.4,263.9 375.8,269.2 372.7,270.2 370.2,270.5 369.9,268.9 369,268.4 367.7,267.9 367,266.5 359.3,260.8 351.9,255 343.5,248.8 343.5,248 343.5,245.1 347.1,243 349.4,242.8 351.4,242 352.1,240.7 354.7,239.6 355,237.8 356.1,237.5 357.2,236.5 360,236 360.5,234.9 359.8,234.4 359.2,231.8 359,230.2 358.1,228.4 360.3,227.1 362.7,226.6 364,225.5 366.1,224.7 369.8,224.2 373.3,223.9 374.4,224.5 376.5,223.4 378.7,223.4 379.5,223.9 381,223.9 380.6,225.2 381.1,227.6 380.6,229.7 379.3,231.3 379.6,233.3 381.4,234.9 381.4,235.4 382.9,236.5 383.9,241.2 384.7,243.5 384.9,244.6 384.5,246.9 384.8,248 384.4,249.6 384.6,251.1 383.7,252.2 385.1,254 385.1,255.3 386.1,256.6 387.2,256.1 389,257.4Z"/>
<path d="M383.9,241.2 382.9,236.5 381.4,235.4 381.4,234.9 379.6,233.3 379.3,231.3 380.6,229.7 381.1,227.6 380.6,225.2 381,223.9 383.4,222.9 384.9,223.2 384.9,224.5 386.6,223.4 386.9,223.9 385.8,225.2 385.9,226.6 386.6,227.1 386.4,229.4 384.9,230.7 385.4,232 386.7,232 387.2,233.3 388.1,233.9 388,235.7 386.9,236.5 386.3,237.3 385,238.3 385.2,239.4 385,240.7Z"/>
<path d="M396.5,260.5 394.7,261.6 393.6,260.3 389.9,259 389,257.4 387.2,256.1 386.1,256.6 385.1,255.3 385.1,254 383.7,252.2 384.6,251.1 384.4,249.6 384.8,248 384.5,246.9 384.9,244.6 384.7,243.5 383.9,241.2 385,240.7 385.2,239.4 385,238.3 386.3,237.3 386.9,236.5 388,235.7 388.1,233.9 390.8,234.7 391.7,234.4 393.4,234.9 396.3,236 397.5,238.3 399.6,238.8 402.7,239.9 405.2,241.2 406.3,240.7 407.3,239.4 406.5,237.3 407.1,236.2 408.8,234.9 410.1,234.7 413.2,235.2 414,236.2 414.8,236.2 415.5,236.7 417.7,237 418.5,237.8 417.7,239.1 418.2,240.1 417.7,242 418.5,244.1 419,253.2 419.4,262.9 419.6,268.1 417.1,268.1 416.9,269.2 407.7,264.2 398.7,259.2Z"/>
<path d="M440.4,243.3 439.8,244.3 439.6,246.4 439.2,247.7 438.6,248.2 437.8,247.2 436.6,246.2 434.8,242.2 434.6,242.5 435.7,245.4 437.2,248 439.3,252.2 440.3,253.5 441.1,255 443.3,257.9 442.9,258.2 443,260 445.8,262.4 446.3,262.9 437.3,262.9 428.4,262.9 419.4,262.9 419,253.2 418.5,244.1 417.7,242 418.2,240.1 417.7,239.1 418.5,237.8 421.3,237.8 423.6,238.6 425.9,239.4 426.8,239.6 428.5,238.8 429.3,238.1 431.3,237.8 432.9,238.3 433.6,239.6 434,238.6 435.8,239.4 437.6,239.4 438.6,238.8Z"/>
<path d="M441,295.7 440.6,295.6 440.6,293.5 439.4,292.4 439.1,288.5 437.9,288.5 437.9,289 436.5,289 437,289.8 437.3,291.4 436.2,293 435.1,294.8 433.7,295 431.8,293.5 430.9,294 430.7,294.8 429.6,295.3 429.6,295.8 427.2,295.8 426.8,295.3 425.2,295.3 424.5,295.6 423.8,295.3 422.6,293.9 422.2,293.2 420.6,293.5 419.9,294.8 419.3,297.1 417.9,297.9 417.7,297.7 417,296.9 417.2,295 417.1,294 415.7,292.4 415.5,291.4 415.5,290.6 414.5,289.8 414.5,288.2 414,287.5 413.1,287.5 413.3,286.4 414,285.4 413.7,284.3 414.4,283.5 413.9,283 414.6,281.4 415.4,279.4 417.5,279.6 416.9,269.2 417.1,268.1 419.6,268.1 419.4,262.9 428.4,262.9 437.3,262.9 446.3,262.9 447.1,265.5 446.7,266 447.1,268.6 448.2,271.8 450.3,273.3 449.5,274.9 447.7,275.2 447,276.1 446.9,277.8 445.9,281.7 446.2,282.8 446,284.8 445.2,287.5 443.9,288.8 442.8,290.9 442.6,291.9 441.7,292.7 441,295.4Z"/>
<path d="M460.1,287.7 459.2,286.7 458.2,285.1 457.2,284.3 456.5,283.5 454.4,282.5 452.8,282.5 452.3,282 451,282.5 449.5,281.2 449,283.3 446.2,282.8 445.9,281.7 446.9,277.8 447,276 447.7,275.2 449.5,274.9 450.3,273.3 451.8,276.5 452.6,278.8 453.8,280.1 457.2,282.5 458.4,284.1 459.8,285.6 460.5,286.4 461.7,287.2 461,287.7Z"/>
<path d="M461.7,287.2 462.2,288 462.2,289 460.9,289.8 461.8,290.3 461.2,291.6 460.7,291.4 460,291.6 458.9,291.4 458.6,290.1 459.3,288.8 460.1,287.7 461,287.7Z"/>
<path d="M477,290.1 478.3,289.8 479.2,289 480.1,289 480.2,289.8 480.2,291.1 480.1,292.7 479.6,293.5 479.3,296.3 478.2,299.2 476.9,302.6 475,306.5 472.9,309.4 470.4,312.8 468.2,315.2 464.7,317.5 462.4,319.6 459.9,322.8 459.4,324.1 458.9,324.8 457.6,322.8 457.5,313.1 459.6,310.2 460,309.4 461.6,309.2 463.7,307.4 466.7,307.3 472.9,299.5 470.9,299.5 464.1,296.9 463.4,296.3 462.5,295.6 461.5,294.3 460.8,292.7 461.2,291.6 461.8,290.3 462.8,290.9 463.3,291.9 464.2,293.2 465.4,293.2 467.7,292.4 469.9,292.2 472,291.4 473.1,291.1 474,290.6 475.2,290.6 476.1,290.6Z"/>
<path d="M457.6,322.8 458.9,324.8 457.3,325.9 456.6,326.9 455.9,327.2 455.4,329 454.7,330.1 454.2,331.6 453.3,332.7 450.1,330.1 449.9,328.5 441.6,323.3 441.2,322.9 441.2,320.1 441.9,319.1 443,317.3 443.7,315.4 442.7,312.3 442.5,311 441.3,309.4 442.7,307.9 444.3,306 445.4,306.5 445.5,307.9 446.4,308.9 448,308.9 450.8,311 451.5,311 452.2,311 452.7,311.3 454.3,311.5 455,310.5 457,309.2 458,310.2 459.6,310.2 457.5,313.1Z"/>
<path d="M441.2,322.9 441.6,323.3 449.9,328.5 450.1,330.1 453.3,332.7 452.1,335.8 452.3,337.4 453.7,338.2 453.9,339 453.2,340.5 453.4,341.3 453.1,342.6 453.8,344.2 454.6,346.8 455.5,347.3 453.6,348.9 451.1,349.9 449.7,349.9 449,350.7 447.4,350.7 446.7,351 443.9,350.2 442.3,350.5 441.7,347.1 440.4,345 438.3,344.5 437,343.7 435.6,343.4 434.7,342.9 433.6,342.1 432.5,339 431.1,337.4 430.7,335.8 430.9,334.5 430.5,332.2 431.6,332.2 432.3,331.1 433.3,329.8 434,329.3 433.7,328.2 433.3,327.7 433.3,326.7 434,326.4 434,324.8 433.1,323.3 434,323 436.6,323Z"/>
<path d="M432.9,397 432.4,397.3 431.4,398.6 430.7,399.9 429.4,401.7 426.5,404.6 424.8,406.1 423.2,407.2 420.7,408.2 419.6,408.5 419.3,409 418,408.8 416.9,409.3 414.5,408.8 413.2,409 412.3,409 409.8,410.1 408.1,410.3 406.7,411.4 405.6,411.4 404.8,410.6 404.1,410.3 403.1,409.3 403.1,409.5 402.7,409 403,407.5 402.2,405.6 402.9,405.1 403,403.3 401.8,400.7 400.8,398.6 399.2,395.2 400.4,393.9 401.2,394.6 401.6,395.7 402.5,396 404,396.2 405.2,396.2 407.2,394.9 407.6,385.2 408.3,385.5 409.5,388.1 409.2,389.7 409.7,390.5 411.2,390.2 412.4,389.2 413.6,388.4 414.1,387.1 415.2,386.5 416.1,386.8 417.2,387.6 419,387.6 420.6,387.1 420.8,386.3 421.1,385 422.5,384.7 423.2,383.7 424,382.1 426.1,380 429.3,378.2 430.2,378.2 431.3,378.7 432.3,378.4 433.4,378.7 434.3,382.4 434.7,384.2 434.3,387.1 434.2,387.8 433.1,387.6 432.4,387.6 432.2,388.4 431.7,389.4 431.6,390.2 432.8,391.8 434.2,391.5 434.5,390.2 434.7,390.2 436.3,390.2 435.7,392.3 435.3,394.4 434.5,395.7ZM427.4,396.1 428.1,396.9 427.3,398.1 426.8,399 425.6,399.4 425.1,400.3 424.3,400.5 422.8,398.5 424.1,396.8 425.3,395.8 426.4,395.3Z"/>
<path d="M427.4,396.1 428.1,396.9 427.3,398.1 426.8,399 425.6,399.4 425.1,400.3 424.3,400.5 422.8,398.5 424.1,396.8 425.3,395.8 426.4,395.3Z"/>
<path d="M434.7,390.3 434.1,391.5 432.8,391.7 431.6,390.3 431.6,389.4 432.3,388.4 432.5,387.7 433.2,387.5 434.3,388 434.6,389.1Z"/>
<path d="M399.2,395.2 397.7,393.1 396.9,391.2 396.5,388.6 395.9,386.8 395.3,382.9 395.4,379.7 395.2,378.2 394.3,377.1 393.2,375 391.9,371.9 390.6,369.3 389.6,365.6 389.3,365.6 390.7,365.1 392.1,364.6 393.7,364.8 395,365.9 395.2,365.9 404.6,365.6 406.1,366.9 411.6,367.2 415.7,366.1 417.6,365.6 419.2,365.9 420.1,366.4 420.1,366.7 418.7,367.2 418,367.2 416.6,368.2 415.7,367.2 412.3,368 410.7,368.2 410.2,377.4 407.9,377.4 407.6,385.2 407.2,394.9 405.2,396.2 404,396.2 402.5,396 401.6,395.7 401.2,394.6 400.4,393.9Z"/>
<path d="M400.5,335.8 401.1,337.7 401.8,339.2 402.3,340 403.2,341.6 404.6,341.3 405.5,340.8 406.6,341.3 407.1,340.5 407.6,339.2 409,339 409.2,338.4 410.4,338.4 410.1,339.5 412.9,339.5 412.9,341.1 413.3,342.1 413.1,343.7 413.3,345.2 413.9,346.3 413.9,349.4 414.3,349.2 415.3,349.2 416.9,348.9 417.8,348.9 418,349.7 417.8,351 418.2,352.3 417.7,353.3 417.9,354.1 413.1,354.1 412.9,362.5 414.4,364.6 415.7,366.1 411.6,367.2 406.1,366.9 404.6,365.6 395.2,365.9 395,365.9 393.7,364.8 392.1,364.6 390.7,365.1 389.6,365.6 389.4,364.1 389.8,361.7 390.6,359.4 390.8,358 391.5,355.7 392,354.6 393.4,353.1 394.1,351.8 394.4,349.9 394.4,348.4 393.7,347.6 393,346 392.6,344.5 392.6,343.8 393.3,342.9 392.2,338.4 391,336.9 391.2,336.3 392.2,336 392.9,336 393.8,335.8ZM391.5,335.3 391,335.6 390.3,333.5 391.3,332.4 392,331.9 392.9,332.9 392,333.4 391.7,334Z"/>
<path d="M433.8,342.1 432.6,341.8 429.6,342.4 428.9,342.6 428.2,344.5 428.9,345.5 428.4,348.6 428.1,351.2 430.1,352.8 430.8,352.3 430.9,355.2 429.1,354.9 428.2,353.6 427.6,352.6 425.8,352 425.3,350.7 423.9,351.5 422.1,351.2 421.2,349.9 419.8,349.7 418.7,349.9 418.7,349.2 417.8,348.9 416.9,348.9 415.3,349.2 414.3,349.2 413.9,349.4 413.9,346.3 413.3,345.2 413.1,343.7 413.3,342.1 412.9,341.1 412.9,339.5 410.1,339.5 410.4,338.4 409.2,338.4 409,339 407.6,339.2 407.1,340.5 406.6,341.3 405.5,340.8 404.6,341.3 403.2,341.6 402.3,340 401.8,339.2 401.1,337.7 400.5,335.8 393.8,335.8 392.9,336 392.2,336 391.2,336.3 391,335.6 391.5,335.3 391.7,334 392,333.4 392.9,332.9 393.6,333.2 394.3,332.2 395.4,332.2 395.6,332.9 396.6,333.5 398,331.6 399.4,330.6 399.8,329.5 399.8,327.5 400.8,324.8 401.9,323.5 403.3,322.2 403.5,321.4 403.8,320.4 404,319.6 404,318 404.2,316 404.7,314.1 405.4,312.8 405.6,311.3 405.6,309.4 406.5,308.1 407.9,307.3 409.7,308.1 411.1,309.2 413,309.4 414.6,309.9 415.3,308.4 415.5,308.1 416.6,308.4 419.2,307.1 420.1,307.6 420.8,307.6 421.2,306.8 422.2,306.5 423.8,306.8 425.2,307.1 426.1,306.8 427.5,308.9 428.4,309.2 429.1,308.6 430.3,308.9 431.4,308.4 432,309.4 434,311.3 434,314.4 434.9,314.6 434.2,315.7 433.3,316.2 432.4,317.5 431.9,318.8 431.7,320.9 431.2,322 431.2,323.8 430.5,324.6 430.5,326.2 430.1,326.4 429.8,327.7 430.5,329 430.5,332.2 430.9,334.5 430.7,335.8 431.1,337.4 432.5,339Z"/>
<path d="M392.9,332.9 392,331.9 391.3,332.4 390.3,333.5 388.5,330.8 390.4,329.3 389.4,327.7 390.1,326.9 391.8,326.7 392,325.4 393.1,326.7 395.2,326.9 395.9,325.6 396.1,323.8 395.9,322 394.8,320.4 395.9,317.3 395.2,316.7 393.6,317 392.9,315.7 393.1,314.4 395.9,314.6 397.8,315.2 399.6,316 399.8,314.4 401,312 402.4,310.7 404,311 405.6,311.3 405.4,312.8 404.7,314.1 404.2,316 404,318 404,319.6 403.8,320.4 403.5,321.4 403.3,322.2 401.9,323.5 400.8,324.8 399.8,327.5 399.8,329.5 399.4,330.6 398,331.6 396.6,333.5 395.6,332.9 395.4,332.2 394.3,332.2 393.6,333.2Z"/>
<path d="M388.5,330.8 386.2,328.2 384.6,325.9 383.2,323.3 383.2,322.5 383.7,321.7 384.4,319.6 384.8,317.8 385.5,317.5 389,317.5 389,314.4 390.1,314.4 391.5,314.6 392.8,314.4 393.1,314.4 392.9,315.7 393.6,317 395.2,316.7 395.9,317.3 394.8,320.4 395.9,322 396.1,323.8 395.9,325.6 395.2,326.9 393.1,326.7 392,325.4 391.8,326.7 390.1,326.9 389.4,327.7 390.4,329.3Z"/>
<path d="M384.8,317.8 384.4,317.3 385.1,314.4 389,314.4 389,317.5 385.5,317.5Z"/>
<path d="M393.1,314.4 392.8,314.4 391.5,314.6 390.1,314.4 389,314.4 385.1,314.4 385.5,312.3 384.6,310.7 383.4,310.2 383,308.9 382.5,308.6 382.5,307.9 383.2,306 384.1,303.7 384.8,303.4 386.2,302.1 387.1,301.8 388.5,303.1 389.9,302.1 390.1,301.1 390.8,300 391,298.7 392.4,297.7 392.6,295.8 393.3,295.3 393.5,293.7 394.1,292.2 396,290.1 396.2,289.3 396.2,288.8 395.5,287.7 395.5,286.9 396.1,286.7 397.1,288.5 397.2,290.1 397.1,291.6 398.5,294.3 397.2,294.3 396.5,294.5 395.5,294.3 395,295.6 396.3,297 397.4,297.4 397.7,298.4 398.4,300.3 398.1,301.1 397,303.7 396.3,304.2 396.3,306 396.6,307.3 396.3,308.1 397.4,309.4 397.5,310.2 398.4,311.8 399.6,312.6 399.6,313.6 399.8,314.4 399.6,316 397.8,315.2 395.9,314.6Z"/>
<path d="M382.5,307.9 380.2,308.9 379.3,308.6 378.4,309.4 376.5,309.2 375.4,307.6 374.4,305.8 372.8,303.9 371.2,303.9 369.1,303.9 369.1,299.5 369.1,298.2 369.6,296.6 370.3,295.8 371.4,294 371.2,293.5 371.6,292.4 371.2,290.9 371.2,289.8 371.4,287.5 372.1,286.4 372.3,285.1 373,284.6 375.3,284.1 377.6,285.1 378.5,286.2 379.6,286.2 380.8,285.6 383.5,286.9 384.7,286.7 386,285.6 387.4,285.9 388.1,285.4 389.2,285.6 391.1,286.4 392.9,284.8 393.4,284.8 395,287.7 395.5,287.7 396.2,288.8 396.2,289.3 396,290.1 394.1,292.2 393.5,293.7 393.3,295.3 392.6,295.8 392.4,297.7 391,298.7 390.8,300 390.1,301.1 389.9,302.1 388.5,303.1 387.1,301.8 386.2,302.1 384.8,303.4 384.1,303.7 383.2,306Z"/>
<path d="M369.1,303.9 367.3,304.5 366.6,302.6 366.8,296.6 366.3,296.1 366.1,294.8 364.7,293 365,291.6 365.7,291.4 366.1,290.3 367.3,290.1 367.9,289.3 368.6,288.5 369.3,288.5 371.2,289.8 371.2,290.9 371.6,292.4 371.2,293.5 371.4,294 370.3,295.8 369.6,296.6 369.1,298.2 369.1,299.5Z"/>
<path d="M367.3,304.5 365.4,305 364.7,303.9 364.3,302.4 364.1,301.1 364.5,298.7 364.1,297.7 363.8,295.6 363.8,293.7 362.9,291.9 362.9,291.6 365,291.6 364.7,293 366.1,294.8 366.3,296.1 366.8,296.6 366.6,302.6Z"/>
<path d="M365.4,305 361.7,306.5 360.4,307.3 358.3,308.1 356.2,307.3 356.4,306.3 355.5,303.9 356,301.1 356.9,299 356.5,295.3 356.1,293.2 356.2,291.6 360.1,291.6 361.1,291.9 362,291.4 362.9,291.6 362.9,291.9 363.8,293.7 363.8,295.6 364.1,297.7 364.5,298.7 364.1,301.1 364.3,302.4 364.7,303.9Z"/>
<path d="M356.2,307.3 353.7,306.8 352.3,306.8 349.5,307.4 347.9,308.1 345.6,309.2 345.1,308.9 345.4,306.8 345.6,306.5 345.4,305.5 344.5,304.5 343.8,304.2 343.1,303.4 343.5,302.4 343.3,301.1 343.6,300.3 343.8,300.3 344,299.2 343.8,298.7 344,298.2 345,297.9 344.3,295.8 343.8,294.8 344.1,294 344.5,293.7 344.7,293.5 345.4,294 347,294 347.5,293.2 348,293.2 348.7,293 348.9,294 349.6,293.7 350.5,293.2 351.5,293.7 351.9,294.8 353,295.3 353.7,294.5 354.9,294.5 356.5,295.3 356.9,299 356,301.1 355.5,303.9 356.4,306.3Z"/>
<path d="M345.1,308.9 344.4,308.9 342.1,307.9 340.1,305.8 338,304.5 336.6,302.6 337.1,301.8 337.3,301.1 338.3,299.7 339.4,298.4 339.9,298.4 340.3,298.2 341.5,299.7 341.3,300.8 341.7,301.3 342.4,301.3 342.9,300.3 343.6,300.3 343.3,301.1 343.5,302.4 343.1,303.4 343.8,304.2 344.5,304.5 345.4,305.5 345.6,306.5 345.4,306.8Z"/>
<path d="M336.6,302.6 335.9,302.4 334.3,301.3 333.2,300 332.7,299 332.5,297.1 333.7,296.1 333.9,295.3 334.4,294.8 334.9,294.5 335.5,294.3 337.4,294.3 338.1,295 338.5,296.1 338.7,297.7 338.7,298.7 339.4,298.4 338.3,299.7 337.3,301.1 337.1,301.8Z"/>
<path d="M343.6,300.3 342.9,300.3 342.4,301.3 341.7,301.3 341.3,300.8 341.5,299.7 340.3,298.2 339.9,298.4 339.4,298.4 338.7,298.7 338.7,297.7 338.5,296.1 338.1,295 337.4,294.3 335.5,294.3 334.9,294.5 334.4,294.8 333.9,295.3 333.7,296.1 332.5,297.1 331.4,295.6 330.5,294.5 330,294.3 329.3,293.7 329.1,292.4 328.9,291.9 328.2,291.6 329.2,290.3 329.8,290.3 330.5,289.8 331,289.8 331.5,289.6 331.2,288.8 331.5,288.5 331.5,287.5 332.6,287.5 334.2,288.2 336.5,288 336.5,288.8 337,288.8 337.7,288.5 337.9,288.5 338.6,289.3 339.5,289.6 340.2,288.8 341.6,288.2 342,288.2 342.5,288.8 342.7,289.6 343.6,290.6 343.2,291.4 343.1,292.2 343.6,291.9 343.8,292.2 343.8,293 344.5,293.7 344.1,294 343.8,294.8 344.3,295.8 345,297.9 344,298.2 343.8,298.7 344,299.2 343.8,300.3Z"/>
<path d="M328.2,291.6 326.9,290.3 325.9,290.3 325.5,289.6 325.5,289.1 324.8,288.5 324.6,288 326,287.7 326.7,287.7 327.4,287.5 331.5,287.5 331.5,288.5 331.2,288.8 331.5,289.6 331,289.8 330.5,289.8 329.8,290.3 329.2,290.3Z"/>
<path d="M324.7,284.8 323.8,282.8 322.6,282 323.6,281.4 324.8,279.6 325.2,278.3 326.2,277.3 327.3,277.5 328.5,277 329.6,277 330.7,277.8 332.3,278.6 333.6,280.4 335,282.2 335.2,283.8 335.6,285.4 336.3,286.2 336.5,286.9 336.5,288 334.2,288.2 332.6,287.5 331.5,287.5 327.4,287.5 326.7,287.7 326,287.7 324.6,288 324.4,285.9 326.5,286.2 326.9,285.6 327.4,285.6 328.3,285.1 329.2,285.6 330.1,285.6 331.3,285.1 330.8,284.3 329.9,284.8 329.2,284.8 328.3,284.1 327.6,284.1 327.2,284.8Z"/>
<path d="M335,282.2 333.6,280.4 332.3,278.6 330.7,277.8 329.6,277 328.5,277 327.3,277.5 326.2,277.3 325.2,278.3 325.3,276.7 325.8,275.4 326.3,273.1 325.9,270.5 325.7,269.2 325.9,267.9 325.5,266.5 324.2,265.5 324.4,264.5 329.4,264.2 329.9,263.1 330.8,262.1 331.6,258.4 334.8,255.6 336,252.4 336.7,252.2 337.4,250.1 339.2,249.8 340.1,250.1 341.2,250.1 341.9,249.6 343.2,249.6 343.3,248 343.5,248 343.5,248.8 351.9,255 348.3,255 349.4,266.5 350.3,277.8 350.8,278 350.3,279.9 341,279.9 340.7,280.4 339.8,280.4 338.4,280.9 337.1,280.1 336.2,280.1 335.9,281.7Z"/>
<path d="M512.2,209.9 511.1,210.4 508.9,212.2 508.4,214.1 507.7,214.1 506.8,213 504,212.8 502.9,210.7 501.9,210.7 501.3,208.1 498.3,206.3 494.7,206.3 492.4,206.8 489.8,204.5 487.6,203.5 484,201.7 483.5,201.4 478.6,203 481.3,212.5 480.2,212.5 478.3,210.7 476.6,209.9 474.2,210.4 473.6,211.2 473.2,210.7 473.6,209.7 473,208.6 470.3,207.8 468.9,205.5 467.4,204.8 467.2,204 469.4,204.2 468.9,202.4 470.7,201.9 472.4,202.2 472.2,199.9 471.3,198.1 469.3,198.3 467.6,197.8 465.4,198.8 463.7,199.4 462.5,198.8 462.4,197.6 460.8,196 459.2,196 457.1,194.3 457.6,192.2 457.1,191.7 457.8,188.9 460.4,190.4 460.1,188.7 463.5,185.9 466.4,185.9 471.3,187.7 474.1,188.7 475.9,187.7 479,187.4 481.9,188.9 482.3,188.2 485.1,188.2 485.2,186.9 481.4,185.2 482.8,184.2 482.1,183.4 483.8,182.7 481.8,180.9 482.3,180.2 489.2,179.2 490,178.7 494.4,177.7 495.7,176.7 499.4,177.2 501.2,179.9 502.8,179.2 505.8,180.2 506.2,181.4 508.1,181.4 511.8,178.9 511.4,179.7 514.9,181.7 522.2,187.9 522.8,186.7 526.1,188.2 528.7,187.4 530,187.9 531.7,189.4 533.3,189.9 534.6,191 537.1,190.7 539,192.2 538.2,194 536.6,194 537.6,196.5 537.1,197.8 532.7,197.1 533.1,201.7 532.1,202.2 528.6,203.2 532.1,207.6 530.9,208.4 531.7,209.9 530.1,209.4 528.6,208.4 525.6,208.1 522,208.1 521.3,208.4 518,207.3 516.9,207.8 517.2,209.4 513.4,208.6 512.2,208.9Z"/>
<path d="M495.7,227.1 495.1,225 493.6,225 490.5,222.6 488.7,222.4 486,221.1 484.5,220.8 483.7,221.3 482.2,221.1 481,222.6 479.1,223.2 478.4,221.3 478.2,218.5 476.3,217.7 476.5,215.9 475.1,215.9 475,213.5 477.3,214.3 478.7,213.3 476.9,211.7 475.9,210.4 474.4,210.9 474.6,213 473.6,211.2 474.2,210.4 476.6,209.9 478.3,210.7 480.2,212.5 481.3,212.5 483.6,212.5 482.8,211.2 484.5,210.2 485.7,208.6 489.1,210.2 489.9,212.2 490.9,212.8 492.9,212.5 493.9,213 495.6,215.6 498.4,217.4 500.3,218.7 502.7,220 505.8,221.1 506.2,222.6 505.5,222.6 504.3,221.9 504.3,222.9 502.5,223.4 502.6,225.5 501.6,226.3 500,226.6 499.8,227.9 498.1,228.1Z"/>
<path d="M479.1,223.2 481,222.6 482.2,221.1 483.7,221.3 484.5,220.8 486,221.1 488.7,222.4 490.5,222.6 493.6,225 495.1,225 495.7,227.1 495.6,230.5 495.3,232.3 496.5,232.8 495.6,234.1 496.9,236.2 497.2,238.1 499.1,238.3 499.6,240.1 498,242.5 499.3,243.8 500.4,245.4 502.6,246.4 503.2,248.8 504.2,249.3 504.5,250.3 501.6,251.9 501.1,254.8 496.7,254 494.2,253.5 491.7,253.2 490.4,249.8 489.2,249.6 487.5,249.8 485.4,251.1 482.6,250.3 480.1,248.2 477.8,247.5 476.2,245.1 473.9,241.7 472.9,242 471.2,241.2 470.7,242.2 469.1,240.7 469,239.4 468.3,239.4 468.3,237.5 466.9,235.4 464,234.1 462.1,231.5 462.3,229.7 463.4,228.6 463,227.1 461.3,226.3 459.5,223.2 457.9,221.1 458.2,220.3 457,217.4 458.4,216.7 459,217.7 460.3,218.7 461.6,219.3 462.5,219 464.7,217.2 465.5,216.9 466.3,217.7 465.7,219 467.2,220.3 467.8,220.3 468.8,222.1 470.9,222.6 472.6,223.9 475.9,224.5 479,223.7Z"/>
<path d="M461.3,226.3 463,227.1 463.4,228.6 462.3,229.7 462.1,231.5 464,234.1 466.9,235.4 468.3,237.5 468.3,239.4 469,239.4 469.1,240.7 470.7,242.2 469.3,242 467.7,241.7 466.5,244.3 462.2,244.1 455.4,238.8 451.9,237 449.2,236.2 447.9,233.1 452.4,230.5 452.8,227.3 452.3,225.2 453.3,224.7 454.1,223.2 455.1,222.6 457.5,222.9 458.5,223.7 459.5,223.2Z"/>
<path d="M447.9,233.1 443.8,236 441.3,234.9 441.5,234.4 441.4,233.3 441.9,232 442.8,231 442.3,229.9 441.4,229.9 440.9,227.9 441.2,226.8 441.8,226.3 442.4,225.5 442.2,224.2 443.1,224.7 445.4,223.9 446.5,224.5 448.3,224.5 450.7,223.4 451.8,223.4 454.1,223.2 453.3,224.7 452.3,225.2 452.8,227.3 452.4,230.5Z"/>
<path d="M460.6,277.8 460,276.5 459.3,275.7 459.2,274.7 458.1,273.9 456.6,271.5 455.7,269.4 454,267.6 453.1,267.3 451.4,264.7 451.1,262.9 451.2,261.3 449.6,258.4 448.4,257.4 447.3,256.9 446.5,255.3 446.5,254.8 445.7,253.5 445,253 443.9,250.9 442.4,248.8 441.2,246.9 440,246.9 440.4,245.6 440.3,244.6 440.6,243.5 443.1,244.1 443.9,243.3 444.3,242.2 446,242 446.4,241.2 447,240.7 444.5,238.1 448.8,236.7 449.2,236.2 451.9,237 455.4,238.8 462.2,244.1 466.5,244.3 468.5,244.6 469.1,245.9 470.7,245.6 471.8,248 473,248.5 473.6,249.6 475.2,250.6 475.4,251.6 475.2,252.7 475.5,253.5 476.3,254.3 476.8,255 477.1,255.6 477.8,256.1 478.5,256.1 479,257.1 479.1,257.7 480.2,260.3 487.1,261.6 487.5,261.1 488.8,262.9 487.6,268.1 481,270.7 474.5,271.8 472.6,272.8 471.2,275.7 470.1,276.2 469.3,275.2 468.6,275.4 466.3,275.2 465.9,274.9 463.4,274.9 462.7,275.2 461.7,274.4 461.1,275.7 461.4,276.7Z"/>
<path d="M484,276.7 482.5,277.5 482.1,278.8 482.1,279.6 479.9,280.7 476.3,282 474.4,283.8 473.3,284.1 472.6,283.8 471.5,284.8 469.9,285.4 468.1,285.6 467.4,285.6 467,286.4 466.3,286.4 466.1,287.2 464.9,287.2 464.2,287.5 462.6,287.5 461.9,285.9 462,284.3 461.6,283.5 461,281.7 460.3,280.7 460.7,280.4 460.4,279.4 460.6,278.8 460.6,277.8 461.4,276.7 461.1,275.7 461.7,274.4 462.7,275.2 463.4,274.9 465.9,274.9 466.3,275.2 468.6,275.4 469.3,275.2 470.1,276.2 471.2,275.7 472.6,272.8 474.5,271.8 481,270.7 483.2,275.2Z"/>
<path d="M496.2,265.2 495.5,267.1 494.3,266.8 494,267.6 493.8,268.9 494.2,270.5 494,271 492.9,271 491.6,271.8 491.5,273.1 491,273.6 489.7,273.6 488.8,274.4 488.9,275.4 487.8,276 486.4,276 485.1,276.7 484,276.7 483.2,275.2 481,270.7 487.6,268.1 488.8,262.9 487.5,261.1 487.4,260 488,259 487.9,257.9 489,257.4 488.5,256.9 488.5,255.3 489.7,255.3 490.7,257.1 492.2,257.9 493.8,258.4 495.2,258.7 496.5,260.3 497.2,261.1 497.9,261.6 498,262.1 497.2,263.7 497.1,264.5ZM489.4,252.7 489.2,253.2 488.6,252.2 489.2,251.4 489.5,251.6Z"/>
<path d="M479,257.1 479.5,256.9 479.5,257.7 481.3,257.1 483.1,257.1 484.5,257.4 485.9,255.6 487.3,254 488.6,252.2 489.2,253.2 489.7,255.3 488.5,255.3 488.5,256.9 489,257.4 487.9,257.9 488,259 487.4,260 487.5,261.1 487.1,261.6 480.2,260.3 479.1,257.7Z"/>
<path d="M477.1,255.6 476.7,253.7 477.2,252.4 477.9,252.2 478.6,253 478.8,254.5 478.5,256.1 477.8,256.1Z"/>
<path d="M469.3,242 469.9,243.3 469.8,243.8 470.7,245.6 469.1,245.9 468.5,244.6 466.5,244.3 467.7,241.7Z"/>
<path d="M441,235.7 441.3,234.9 443.8,236 447.9,233.1 449.2,236.2 448.8,236.7 444.5,238.1 447,240.7 446.4,241.2 446,242 444.3,242.2 443.9,243.3 443.1,244.1 440.6,243.5 440.4,243.3 441.1,239.1 441,238.1 441.1,237.3Z"/>
<path d="M441.3,234.9 441,235.7 441.1,237.3 441,238.1 441.1,239.1 440.4,243.3 438.6,238.8 439.2,238.1 439.5,236.5 439.7,234.7 439.9,233.9 440.8,233.9 440.9,233.3 441.4,233.3 441.5,234.4Z"/>
<path d="M441.4,233.3 440.9,233.3 440.8,233.9 439.9,233.9 440.5,231.8 441.4,229.9 442.3,229.9 442.8,231 441.9,232Z"/>
<path d="M525.2,223.4 527,224.5 528.2,226.6 531.9,227.6 530.5,229.7 528.2,230.2 524.6,229.7 523.8,230.7 525.2,233.1 526.5,234.7 528.5,236 526.9,237.5 527.3,239.4 525.8,242 524.8,244.6 523.1,247.5 520.4,247.2 518.4,250.1 520.1,251.1 520.6,253.2 521.9,254.5 522.6,256.6 517.7,256.6 516.6,258.4 514.7,257.9 513.8,255.8 512,254 507.8,254.5 504.2,254.5 501.1,254.8 501.6,251.9 504.5,250.3 504.2,249.3 503.2,248.8 502.6,246.4 500.4,245.4 499.3,243.8 498,242.5 501.8,243.8 504.1,243.3 505.3,243.8 505.8,243 507.2,243.3 509.9,242.2 509.8,240.1 510.6,238.6 512.3,238.6 512.4,237.8 514.1,237.5 514.8,237.8 515.6,237 515.2,235.4 515.8,233.9 516.9,233.1 515.7,231.5 517.9,231.5 518.3,230.7 517.9,229.7 518.6,228.4 518.1,227.1 517.4,226 518.2,225 520.5,224.5 523,224.2 523.9,223.7Z"/>
<path d="M572.4,262.9 572.7,264.7 571.7,264.2 572.2,266.3 571.4,265 571,263.7 570.3,262.4 569.2,260.8 567.2,260.8 567.5,261.8 567.1,263.4 565.9,262.9 565.7,263.1 565,262.9 564,262.6 563.5,260.5 562.3,258.7 562.5,257.1 561.1,256.4 561.3,255.3 562.6,254.5 560.7,253 561.3,251.4 563.3,252.4 564.2,252.4 564.8,254.3 567.1,254.8 569.1,254.8 570.5,255 569.8,257.4 568.9,257.4 568.5,259 569.8,260.3 570,258.7 570.4,258.7Z"/>
<path d="M588.5,267.6 587.5,268.6 586,268.9 585.3,271.8 584.4,272.3 585.8,274.4 587.5,276.5 588.6,278 588,280.4 587.4,280.9 588,282.2 589.8,284.3 590.2,285.6 590.3,286.9 591.4,289.3 590.3,291.6 589.6,294.5 589.2,292.4 589.7,290.6 588.7,289 588.6,286.2 587.6,284.8 586.6,281.7 585.7,278.3 584.5,276.2 583.1,277.5 580.8,279.4 579.4,279.1 578,278.6 578.2,275.2 577.4,272.8 575.2,269.7 575.5,268.9 574.1,268.4 572.2,266.3 571.7,264.2 572.7,264.7 572.4,262.9 573.4,262.1 573.1,261.1 573.4,260.3 572.9,257.4 574.8,257.9 575.6,255.8 575.4,254.5 576.3,252.4 575.8,250.9 578.3,249 580,249.6 579.6,248 580.2,247.5 579.7,246.4 581,246.4 582.1,248 583.3,248.5 583.8,250.6 584.2,252.7 582.4,254.8 582.7,257.9 585.1,257.4 586,260 587.4,260.5 587.1,262.6 589.1,263.7 590,263.9 591.7,263.4 591.9,264.5 590.1,266 589.8,267.1Z"/>
<path d="M598.3,288.5 596.1,287.5 594,287.5 594.3,285.4 592.2,285.4 592.3,288.2 591.5,292.2 590.9,294.3 591.1,296.3 592.7,296.3 593.8,298.7 594.4,301.1 595.6,302.4 597,302.9 598.2,304.2 597.6,305.2 596.2,305.5 595.9,304.2 594,303.1 593.6,303.4 592.6,302.6 592.1,301.3 590.8,299.7 589.6,298.4 589.2,300 588.9,298.4 589,296.9 589.6,294.5 590.3,291.6 591.4,289.3 590.3,286.9 590.2,285.6 589.8,284.3 588,282.2 587.4,280.9 588,280.4 588.6,278 587.5,276.5 585.8,274.4 584.4,272.3 585.3,271.8 586,268.9 587.5,268.6 588.5,267.6 589.8,267.1 590.8,267.9 591.3,269.4 592.9,269.4 592.6,272.3 593.2,274.7 595.2,273.1 596,273.6 597.3,273.3 597.6,272.6 599.5,272.8 601.4,274.9 602,277.5 604.1,279.6 604.2,282 603.6,283 601.5,282.8 598.6,283.3 597.3,285.4Z"/>
<path d="M600.7,292.7 599.6,291.1 598.3,288.5 597.3,285.4 598.6,283.3 601.5,282.8 603.6,283 605.6,284.1 606.5,282.2 608.7,283.3 609.4,285.1 609.5,288.2 605.7,290.1 606.8,291.6 604.5,291.9 602.5,293Z"/>
<path d="M607.4,263.9 604.6,266.3 603.2,268.6 603,270.5 605,273.3 607.8,276.7 610.1,278.3 611.8,280.4 613.3,285.4 613.5,289.8 611.9,291.6 609.2,293.2 607.6,295.6 605,297.9 604,296.3 604.5,294.5 602.5,293 604.5,291.9 606.8,291.6 605.7,290.1 609.5,288.2 609.4,285.1 608.7,283.3 608.8,280.7 607.9,278.8 606,277 604.1,274.7 601.8,271.5 598.8,269.9 599.4,269.2 600.6,268.4 599.4,266 596.7,266 595.4,263.7 593.7,261.6 594.7,261.1 596.5,261.1 598.8,260.8 600.3,259.2 601.6,260.3 603.7,260.8 603.8,262.4 604.8,263.4Z"/>
<path d="M595.9,304.2 596.2,305.5 597.6,305.2 598.2,304.2 598.9,304.5 600.4,306 601.4,307.6 601.4,309.4 601.2,310.7 601.5,311.5 601.8,313.1 602.7,313.9 603.5,316.2 603.5,317 601.9,317.3 599.7,315.2 596.9,313.1 596.7,311.8 595.2,310.2 594.9,307.9 593.9,306.5 594.1,304.7 593.6,303.4 594,303.1ZM636.5,308.6 634.9,309.7 632.8,309.2 630.3,309.2 629.4,312 628.5,313.1 627.5,316.7 625.6,317.3 623.6,316.5 622.4,316.7 621,318 619.7,317.8 618,318.3 616.4,317 616.1,315.2 617.8,316 619.6,315.4 620,313.3 620.9,312.8 623.7,312.3 625.2,310.2 626.3,308.6 627.5,309.9 627.9,309.2 628.9,309.2 629,307.3 629.2,306.3 630.7,304.5 631.8,302.4 632.7,302.4 633.9,303.7 634.2,304.7 635.6,305.5 637.7,306.3 637.6,307.3 635.9,307.3Z"/>
<path d="M626.3,308.6 627.2,307.6 629.2,306.3 629,307.3 628.9,309.2 627.9,309.2 627.5,309.9Z"/>
<path d="M640.3,347.1 639.4,347.3 636.5,345.5 638.6,345 639.7,345.8 640.6,346.5ZM648.8,346.8 646.9,347.6 646.7,347.1 647,346.3 648.1,344.7 650.5,343.7 650.7,344.2 650.6,345ZM634.3,341.6 635.2,342.4 636.6,342.1 637,343.1 634.4,343.7 632.7,343.9 631.4,343.9 632.4,342.6 633.6,342.4ZM645.8,341.6 645.5,342.9 642,343.7 638.8,343.4 638.9,342.4 640.7,341.8 642.1,342.6 643.7,342.6ZM613.1,338.2 617.5,338.4 618.2,337.4 622.3,338.4 623.1,340.3 626.5,340.8 629.2,342.4 626.6,343.4 624.1,342.1 622.1,342.4 619.5,342.1 617.5,341.6 614.8,340.5 613.2,340.3 612.3,340.8 608.2,339.7 607.8,338.4 605.7,338.4 607.5,335.8 610.2,336.1 612,336.9 612.9,337.1ZM673.3,336.6 672.1,338.4 672,336.3 672.5,335.6 673,334.5 673.4,335.3ZM656.4,329.5 655.7,330.3 654.1,329.8 653.7,328.8 656,328.5ZM664.1,328.5 664.7,330.6 662.9,329.3 661,329.3 659.6,329.3 658,329.3 658.5,327.7 661.5,327.7ZM688.3,327.2 687.9,335.8 687.2,344.2 685.4,342.1 683.1,341.6 682.6,342.4 679.6,342.4 680.7,340.3 682.4,339.5 681.9,336.6 680.8,334.5 676.6,332.2 674.7,332.2 671.4,329.5 670.7,330.9 669.7,331.1 669.3,330.1 669.3,329 667.5,327.7 670.1,326.9 671.7,326.9 671.5,326.2 668.1,326.2 667.2,324.6 665.1,324.1 664.2,322.8 667.5,322.2 668.6,321.4 672.3,322.5 672.5,323.5 673.1,327.7 675.6,329.3 677.5,326.4 680.1,324.8 682.2,324.8 684.2,325.9 685.8,326.7ZM652,316.7 650.2,319.4 648.6,319.9 646.2,319.4 642.5,319.4 640.5,319.9 640,321.7 642,324.1 643.4,323 647.6,322 647.6,323.3 646.4,322.8 645.5,324.3 643.4,325.4 645.6,328.8 645.1,329.5 647,332.7 647,334.3 645.5,335 644.7,334.3 645.9,332.2 643.6,333.2 643.1,332.4 643.4,331.4 641.9,329.8 642.2,327.2 640.5,328 640.7,331.1 640.5,334.8 639.1,335.3 638.2,334.5 639,332.2 638.6,329.5 637.7,329.5 637.1,327.7 638.1,325.9 638.3,324.1 639.5,319.9 640,318.8 642,317 643.9,317.8 646.7,318 649.4,318 651.7,316.2ZM660.1,317.5 659.9,319.6 658.7,319.4 658.5,321.2 659.4,322.5 658.7,322.8 657.8,321.2 657.1,317.8 657.5,315.7 658.1,314.6 658.4,316.2 659.8,316.5ZM635.1,315.7 637.7,318 634.9,318.3 634.2,320.1 634.2,322.5 632.1,324.3 631.8,326.9 630.7,330.9 630.5,330.1 628,331.1 627.1,329.5 625.5,329.3 624.4,328.5 621.6,329.5 620.7,328.2 619.1,328.2 617.2,328 617.1,324.6 615.9,323.8 614.8,321.7 614.6,319.4 614.8,317 616.1,315.2 616.4,317 618,318.3 619.7,317.8 621,318 622.4,316.7 623.6,316.5 625.6,317.3 627.5,316.7 628.5,313.1 629.4,312 630.3,309.2 632.8,309.2 634.9,309.7 633.6,312 635.3,314.4ZM606.8,335.8 604.2,335.8 602.5,333.5 599.6,331.4 598.7,329.8 596.9,327.7 595.8,325.9 594,322.2 592.2,319.9 591.5,317.8 590.5,315.7 588.4,313.9 587.2,311.8 585.3,310.2 582.9,307.3 582.6,306 584,306.3 587.7,306.8 589.9,309.2 591.6,311 593,312 595.1,314.9 597.7,314.9 599.5,316.7 601,318.8 602.6,320.1 601.7,322.2 603,323.3 603.9,323.3 604.1,325.1 605,326.4 606.6,326.7 607.8,328.5 607.2,331.6Z"/>
<path d="M722.1,338.2 721.4,338.4 720.5,337.4 719.5,335.8 719.2,333.7 719.6,333.5 720.5,335 721.3,336.3ZM713.3,334.8 712.2,335 711.7,335.6 710.5,336.3 709,336.9 707.9,336.9 706.1,336.1 704.8,335.3 705.1,334.5 707.1,335 708.3,334.8 708.8,333.5 709,333.5 709.2,334.8 710.6,334.8 711.3,333.7 712.5,332.9 712.4,331.4 713.8,331.1 714.2,331.6 714.1,333.2ZM701.9,339.7 703.9,341.3 705,344.2 706.3,344.2 706.2,345.2 707.8,345.8 707,346.3 709.4,347.3 709.1,348.1 707.5,348.4 707.1,347.6 705.1,347.3 702.8,346.8 701.2,345.2 700.2,343.7 699,341.6 696.1,340.3 694.2,341.1 692.8,341.8 692.8,343.9 690.9,344.7 689.8,344.5 687.2,344.2 687.9,335.8 688.3,327.2 692.2,329 696.5,330.6 698.1,331.9 699.1,333.2 699.5,334.8 703.1,336.3 703.7,337.7 701.6,337.9ZM716,332.2 715.3,332.9 714.9,331.4 714.5,330.3 713.6,329.5 712.3,328.2 710.7,327.5 711.2,326.9 712.6,327.7 713.2,328.2 714.1,328.8 715,330.1 715.9,330.9Z"/>
<path d="M653.8,298.4 654.2,300 654.3,301.6 653.7,303.9 652.6,301.3 651.8,302.6 652.6,304.7 652,305.8 649.1,304.2 648.3,302.4 648.9,301.1 647.5,300 646.9,301.1 645.7,300.8 644.2,302.4 643.7,301.6 644.5,299.5 645.8,298.7 647.1,297.7 647.9,299 649.6,298.2 650,296.9 651.6,296.9 651.2,294.8 653.2,296.1 653.5,297.4ZM647.8,293.5 647,294.4 646.5,296.1 645.9,296.9 644.3,295 644.7,294.3 645.1,293.5 645.2,291.9 646.6,291.9 646.3,293.5 647.9,291.1ZM635.4,296.1 632.6,298.4 633.6,296.6 635.1,295 636.3,293.2 637.2,290.6 637.9,292.7 636.4,294.3ZM642.6,289.3 644.1,290.1 645.5,290.1 645.6,291.1 644.5,292.4 643.2,293.2 643.1,291.9 643,290.6ZM650.8,288.5 651.8,291.6 649.9,290.9 650,291.6 650.8,293.2 649.7,294 649.6,292.2 648.9,291.9 648.2,290.3 649.6,290.6 649.5,289.6 647.9,287.5 650,287.7ZM641.3,286.2 641.1,288.5 639.9,287.2 638.5,285.1 640.5,285.4ZM638.7,272 640.2,272.8 640.8,272 641.1,272.8 641.1,273.9 642.1,275.7 642,277.8 640.8,278.8 640.6,280.9 641.4,283 642.8,283.3 643.7,283 646.7,284.3 646.8,285.9 647.6,286.4 647.5,287.7 645.5,286.4 644.4,284.8 644.1,285.9 642.2,284.3 640.3,284.8 639,284.1 639.1,283 639.7,282.5 638.9,281.7 638.8,282.8 637.5,281.2 636.9,280.1 636.5,277.5 637.5,278.6 637.1,274.4 637.4,272Z"/>
<path d="M650.5,343.7 650.8,343.1 652.7,342.4 654.3,342.4 655.2,342.1 655.9,342.4 655.1,343.1 652.5,344.2 650.6,345 650.7,344.2Z"/>
<path d="M637.3,209.7 638,210.2 637,209.9 636.8,210.9 636.6,211.7 637.6,213.5 636.9,214.1 636.7,214.6 636.3,215.4 635.3,215.9 634.5,216.4 635.2,217.7 635.1,218 636.1,218.2 637.8,219.5 637.9,220 637.2,220.3 635.6,220.3 635.4,221.6 634.3,221.6 634.5,221.9 633.1,221.3 633.1,221.6 632.5,221.9 632.1,221.3 631.6,221.3 630.7,220.8 630.9,219.8 631.1,219.3 630.7,219 630.6,217.4 630.1,216.9 628.7,216.7 627.6,216.1 628.3,214.3 629.9,213 630.4,211.2 631.7,212 633.6,212 632.6,210.7 635.2,209.7 635.1,208.1Z"/>
<path d="M637.8,219.5 641.3,222.6 642.7,224.2 644.1,227.3 643.8,228.6 642.1,229.2 640.8,230.2 638.9,230.5 638.2,229.2 637.7,227.1 635.5,224.5 637,223.9 634.5,221.9 634.3,221.6 635.4,221.6 635.6,220.3 637.2,220.3 637.9,220Z"/>
<path d="M657,231.3 657.8,232 657.1,233.6 655.9,232.8 655,233.3 655,234.9 653.4,234.1 652.8,232.8 653.3,231.3 654.8,231.8 655.1,230.5ZM667.1,223.4 667.3,225.5 668.4,226.8 668.2,228.6 665.9,229.7 662.1,229.9 660.3,232.8 658.4,232 657.5,229.9 653.8,230.5 652,231.8 649.3,231.8 652.4,233.9 652.5,238.1 651.7,239.4 650.2,238.3 649.7,236 648.1,235.2 646.5,233.3 648.3,232.6 648.8,231 650.4,229.7 651.1,227.9 655.1,227.1 657.7,227.6 657.6,222.9 659.8,224.2 661.7,221.6 662.2,220.6 662,217.4 659.7,214.3 659.6,212.8 661.6,212.2 664.9,215.9 666.1,218 665.6,220.6ZM662.1,205 663.9,205.5 664.7,204.5 667,207.3 664.6,208.1 664.4,210.7 659.9,208.9 660.7,211.7 658.4,211.7 656.3,209.1 656.2,207.3 658.3,207.1 656.5,203.5 655.7,201.4 659.9,204.2Z"/>
<path d="M636.9,256.6 636.4,260.8 635.7,262.9 634.2,260.8 633.5,258.7 634.4,256.4 635.7,254.3 637,255Z"/>
<path d="M671.1,427 672.7,427.8 673.9,427.5 675.9,427 677,427.3 675.2,430.4 673.9,431.1 672.2,433.2 672.1,432.4 669.4,434.2 669,434.2 667.7,434 667.9,431.9 668.9,430.1 668.9,428 669.7,426.7ZM691.7,356.5 692.1,358.3 693.8,357.5 694.3,358.6 695.3,359.6 694.9,360.7 694.9,363 694.9,364.3 695.5,364.6 695.7,366.9 695.2,368.2 695.5,370.1 697.7,371.4 699,372.7 700.2,373.7 699.8,374.3 700.8,376.1 701.1,378.7 702.1,378.2 702.7,379.5 703.3,379 703,381.8 704.2,383.4 705,384.4 706.2,386.5 706,388.6 705.8,389.9 705,391.8 705.4,393.9 704.2,396.2 703.3,397.5 701.9,399.9 701.3,401.2 700.1,403 698,405.6 695.7,406.7 693.8,408.8 692.5,410.1 690.7,412.4 689.2,413.7 687.8,415.6 686.3,417.4 686.1,418.2 684.2,419.2 681.9,419.2 679.4,420.2 677.7,421.3 675.8,422.3 674.7,421.3 673.7,420.8 674.6,419.5 673.3,420 670.3,421.8 668.8,421 667.9,420.8 666.8,420.5 665,419.7 664.6,418.2 665.2,416.1 665.9,413.7 664.8,413.7 662.8,413.5 664.1,412.2 664.5,410.3 662.5,412.2 660.3,412.7 662.4,411.1 663.3,409.5 664.8,408.2 665.3,406.4 662.6,408.8 660.9,409.5 659.1,411.6 657.8,410.6 658.5,409 658,407.2 657.3,406.1 658,405.6 655.8,404.1 654.2,404.1 652.5,402.7 648.5,403 645,404.6 642.5,404.8 640.4,404.6 637.7,405.9 635.4,406.7 634.4,408 633.4,409 631.4,409 630,409.3 628.2,408.8 626.6,409 625,409.3 623.1,410.6 622.5,410.6 621.2,411.1 619.7,412.2 618.3,411.9 616.7,411.9 615.2,410.3 614.1,409.8 614.6,408.2 615.8,408 616.5,407.5 616.8,406.4 617.7,404.6 618,403 617.8,400.4 617.8,398.8 618.2,397.5 617.9,395.7 618.1,394.9 617.5,393.9 617.6,391.8 617,389.7 616.8,388.6 617.7,389.7 617.4,387.3 618.3,388.1 618.7,389.2 619,387.8 618.4,385.8 618.3,385 618,384.2 618.6,382.6 619.1,382.1 619.6,380.8 619.7,379.2 620.9,377.4 620.8,379.2 622,377.4 624.2,376.6 625.3,375.6 627.3,374.5 628.5,374.3 628.9,374.5 630.8,373.7 632.2,373.5 632.8,372.7 633.5,372.7 634.6,372.7 637.3,371.9 638.6,370.6 639.5,369.3 640.9,368 641.3,366.9 641.5,365.6 643.5,363.3 644.1,365.6 645.3,365.1 644.6,363.8 645.5,362.5 646.5,363 647.1,361.2 648.4,359.9 649.2,358.8 650.5,358.3 650.6,357.5 651.5,357.8 651.5,357.3 652.7,357 653.9,356.5 655.3,357.8 656.5,359.4 657.9,359.4 659.2,359.6 659,358 660.4,356 661.4,355.4 661.3,354.6 662.4,353.1 663.9,352.3 665,352.6 667.1,352 667.3,350.7 665.5,349.9 666.9,349.4 668.2,350.2 669.5,351.2 671.3,351.8 672,351.5 673.3,352.3 674.7,351.8 675.6,351.8 676.1,351.5 677.1,352.8 676.2,354.1 675.2,355.2 674.5,355.2 674.6,356.2 673.7,357.5 672.6,358.8 672.7,359.6 674.2,361.2 675.9,362 676.9,362.8 678.2,364.3 678.9,364.3 679.9,365.1 680.2,365.9 682.1,366.7 683.9,365.9 684.6,364.3 685.3,363.3 685.8,361.7 686.9,359.6 686.8,358.6 686.9,357.8 686.9,356.2 687.7,354.1 688,353.6 687.9,352.8 688.5,351.5 689.2,349.9 689.3,349.2 690.3,348.4 690.8,349.7 690.8,351.2 691.3,351.5 691.4,352.6 691.9,353.9 691.9,355.4Z"/>
<path d="M729.4,427.3 729,428.3 731.5,427.3 731.1,428.3 730.1,429.6 728.7,430.6 725.6,432.7 723.7,433.7 723.5,435 721.8,435 719.5,435.8 717.4,437.6 714.1,440.2 711.3,441.4 709.9,442 708,442 707.4,441.2 705.4,440.9 705.6,440.2 708.3,438.1 713.1,435.5 714.7,435 717,434.2 719.9,432.7 722.2,431.4 724.6,429.6 725.9,428.8 727.3,427.5 729.7,426.2ZM741.1,415 741,417.6 742.4,415.8 742.7,416.6 741.8,418.7 743,419.5 744.1,419.7 746.1,418.7 747,418.9 745,421.3 743.2,422.8 741.7,422.6 740.5,423.4 739.8,424.7 739.2,425.2 737.4,426.5 734.9,428.3 732.4,429.3 732.8,428.6 732.2,428.3 734.8,426.2 735.3,424.7 733.7,423.6 734.7,422.6 736.7,421.8 738.3,419.7 739.3,418.2 739.6,416.3 740,415.8 739.5,414.8 739.4,412.4 739.4,410.6 740.3,410.6 740.8,411.9 741.9,412.7Z"/>
<path d="M738.3,375.6 739.7,377.1 740.5,378.4 739.4,379 738.5,378.2 737.2,377.1 736,375.6 735.1,373.7 734.8,372.9 736,372.9 736.8,374 737.8,374.8Z"/>
<path d="M769.4,365.6 769.9,366.4 769.2,368 767.6,368.2 766.5,368 766.6,366.7 767.7,365.9 768.6,366.1ZM772,364.3 770.2,364.8 770.3,363.8 771.5,363.3 772.2,363.3 773.8,362.5 773.5,363.8Z"/>
<path d="M735.4,347.8 735.9,348.6 734.3,348.6 733.6,347.1 734.9,347.6ZM732.8,346.3 731.9,346.3 730.3,346 729.9,345.5 730.2,344.5 731.8,345 732.4,345.5ZM734.7,345.5 734.2,346 733.3,343.7 732.6,342.1 733.2,342.1 733.9,344.2ZM730.9,342.1 730.9,342.6 729.1,341.6 728.1,340.8 727.2,339.7 727.7,339.5 728.6,340.3 730.3,341.3ZM725.7,339.5 725.2,339.7 724.3,339.2 723.5,338.2 723.5,337.7 724.8,338.7Z"/>
<path d="M745.7,363.5 744.9,363.8 744.5,362.8 744.7,362ZM745,359.4 745,361.4 744.4,361.2 743.9,361.4 743.6,360.7 744,358.6Z"/>
<path d="M308.3,280.9 308.6,280.3 309.3,280.3 309.6,280.9 309.3,281.6 308.6,281.6ZM305.6,276.5 305.9,276 306.4,276 306.7,276.5 306.4,277 305.8,277ZM309.9,278.3 310.2,277.8 310.6,277.8 310.9,278.3 310.6,278.8 310.2,278.8ZM461.9,351 462.2,350.3 462.6,350.3 462.9,351 462.6,351.6 462.1,351.6ZM464.3,352.3 464.5,351.9 465,351.9 465.2,352.3 465,352.7 464.5,352.7ZM466.1,353.9 466.2,353.5 466.6,353.5 466.7,353.9 466.6,354.3 466.2,354.3ZM492.8,373.5 493.1,372.8 493.7,372.8 493.9,373.5 493.6,374.1 493,374.1ZM487.9,375.6 488.3,375 488.9,375 489.2,375.6 488.8,376.1 488.2,376.1ZM221.7,278 222.1,277.5 222.8,277.5 223.1,278 222.7,278.6 222,278.6ZM223,282.1 223.2,281.4 223.6,281.4 223.8,282.1 223.5,282.8 223.1,282.8ZM222.4,280.1 222.6,279.6 222.9,279.6 223,280.1 222.8,280.7 222.5,280.7ZM223.1,284.1 223.2,283.5 223.5,283.5 223.5,284.1 223.4,284.6 223.2,284.6ZM226.2,286 226.3,285.6 226.6,285.6 226.7,286 226.6,286.3 226.3,286.3ZM222.4,285.9 222.6,285.6 222.8,285.6 222.9,285.9 222.8,286.2 222.5,286.2ZM221.1,288.8 221.3,288.5 221.5,288.5 221.6,288.8 221.5,289 221.2,289ZM532.2,309.4 532.3,308.6 532.6,308.6 532.7,309.4 532.6,310.2 532.3,310.2ZM531.8,313.1 531.9,312.3 532.2,312.3 532.3,313.1 532.2,313.9 531.9,313.9ZM531.4,320.4 531.6,319.6 531.8,319.6 532,320.4 531.8,321.2 531.6,321.2ZM490.6,332.6 490.8,332.3 491,332.3 491.2,332.6 491,332.8 490.8,332.8ZM151.8,322 152.4,320.9 153.6,320.9 154.2,322 153.6,323 152.4,323ZM154,322 154.2,321.6 154.6,321.6 154.7,322 154.6,322.4 154.2,322.4ZM349.5,160.5 350,159.8 350.9,159.8 351.3,160.5 350.8,161.2 349.9,161.2ZM-32.9,356 -32.5,355.6 -31.6,355.6 -31,356 -31.4,356.3 -32.3,356.3ZM-30.9,356.7 -30.6,356.4 -29.9,356.4 -29.5,356.7 -29.8,357.1 -30.5,357.1Z"/>
</g>
<g fill="#ffffd4" style="stroke:#333;stroke-opacity:0.5">
<path d="M145.1,252.8 143.8,255.1 143,257 142.3,260.5 141.9,261.7 142,263.1 142.5,264.4 142.7,266.4 143.9,268.4 144.2,269.9 145,271.2 147.3,271.9 148,273 150.1,272.2 151.9,272 153.7,271.5 155.2,271 156.8,270 157.5,268.5 158,266.3 158.5,265.5 160.1,264.8 162.6,264.2 164.6,264.3 166,264.1 166.5,264.6 166.2,265.9 164.8,267.4 164,269 164.4,269.5 163.9,270.6 163.1,272.7 162.6,272 162.1,272 161.7,272.1 160.7,273.7 160.3,273.3 160,273.4 160,273.8 157.9,273.8 155.7,273.8 155.6,275.3 154.5,275.3 155.3,276.2 156,276.8 156.2,277.3 156.6,277.5 156.4,278.4 153.5,278.4 152.1,280.5 152.4,281 152.1,281.6 151.9,282.4 149.6,279.6 148.6,278.7 146.8,278 145.5,278.2 143.5,279.2 142.3,279.5 140.8,278.8 139.2,278.3 137.2,277.1 135.5,276.7 133.1,275.5 131.4,274.3 130.9,273.6 129.7,273.4 127.5,272.6 126.7,271.4 124.5,269.9 123.6,268.2 123.3,267 124.1,266.7 123.9,266 124.6,265.3 124.7,264.4 124.2,263.2 124.1,262.2 123.6,260.9 122.1,258.3 120.2,256.2 119.4,254.6 117.7,253.5 117.5,252.9 118.2,251.3 117.2,250.7 116.2,249.4 116.1,247.6 114.9,247.4 114,246 113.3,244.7 113.4,243.9 112.8,241.9 112.7,239.9 113,238.9 111.8,237.9 111,238 110,237.3 109.3,238.3 109.2,239.6 108.8,241.6 109.2,242.6 110.3,244.4 110.6,245 110.8,245.2 110.9,246.1 111.3,246.1 111.3,247.8 111.8,248.4 112,249.4 113.1,250.7 113.3,253.1 113.7,254.3 114,255.5 113.9,256.9 115,257 115.6,258.2 116.2,259.3 116.1,259.8 115,260.7 114.6,260.7 114.3,259.1 113.1,257.7 111.7,256.4 110.7,255.7 111.2,253.8 111.2,252.4 110.3,251.6 109,250.4 108.6,250.8 108.2,250.1 107,249.5 106.1,247.9 106.3,247.7 107.2,247.9 108.3,246.9 108.7,245.7 107.5,243.9 106.4,243.1 106.1,241.5 105.9,239.8 105.6,237.7 105.5,235.3 108,235.1 110.9,234.9 110.5,235.4 113.4,236.6 117.9,238.5 122.2,238.5 124,238.5 124.3,237.4 128.2,237.4 128.7,238.3 129.6,239.1 130.5,240.3 130.9,241.7 131,243.1 132,243.9 133.6,244.7 135.5,242.6 137.4,242.5 138.6,243.6 139.3,245.4 139.7,246.9 140.7,248.4 140.8,250.2 141.1,251.5 142.7,252.3 144.2,252.8Z"/>
<path d="M425.6,184.9 426.4,185 426.8,184.4 427.4,184.6 429.4,184.3 430.9,185.7 430.5,186.2 430.9,187 432.5,187.1 433.4,188.3 433.5,188.7 436.2,189.6 437.6,189.2 439.1,190.4 440.3,190.4 443.4,191.2 443.6,191.9 443.1,193.3 443.8,194.7 443.7,195.5 441.7,195.7 440.8,196.4 441,197.6 439.4,197.8 438.2,198.6 436.3,198.7 434.7,199.7 435.1,201.3 436.2,201.9 438.3,201.7 438,202.7 435.9,203.1 433.3,204.6 432.1,204.1 432.3,202.9 429.9,202.1 430.2,201.6 432.1,200.8 431.4,200.2 428.1,199.5 427.8,198.6 425.9,198.9 425.4,200.3 424.1,202.2 423.1,201.8 422.1,202.2 421.2,201.7 421.6,201.4 421.9,200.5 422.3,199.7 422.1,199.3 422.5,199.1 422.8,199.4 424,199.5 424.5,199.3 424.1,199 424.2,198.7 423.4,198 422.9,196.9 422.1,196.5 422.1,195.7 421.1,195 420.2,194.9 418.6,194.1 417.3,194.3 416.9,194.7 416,194.7 415.6,195.3 414.1,195.6 413.5,195.9 412.5,195.3 411.2,195.3 409.9,195 409.1,195.6 408.8,194.9 407.7,194.2 407.9,193.2 408.4,192.5 408.9,192.7 408.2,191.5 409.8,189.4 410.7,189.1 410.8,188.4 409.5,186.2 410.5,186.1 411.4,185.4 413,185.4 415,185.6 417.3,186.2 418.9,186.2 419.7,186.6 420.3,186.2 420.9,186.7 422.7,186.6 423.6,186.9 423.5,185.6 424,185.1Z"/>
</g>
<g fill="#fee391" style="stroke:#333;stroke-opacity:0.5">
<path d="M409,140 414.5,141.6 412.6,142.2 414.8,143.5 412.2,144.4 410.9,144.6 411.2,143.1 408.8,142.2 406.4,142.9 406,144.6 404.6,145.5 402.7,145 400.5,145.1 398.4,143.9 397.5,144.5 396.5,144.6 396.5,146.1 393.3,145.7 393,147 391.4,147 390.5,148.6 389.1,151.1 386.7,154.3 387.5,155.1 386.9,156 385.2,155.9 384.2,158.1 384.6,161.2 385.9,162.5 385.6,165.2 384.2,166.9 383.5,168.3 382.1,166.8 378.6,169.6 376.1,170.2 373.5,168.9 372.7,166.3 371.9,160.8 373.5,159.3 378.1,157.4 381.5,155 384.4,151.8 388,147.4 390.6,145.7 394.8,143 398.3,142 401,142.1 403.1,140.3 406.1,140.4ZM399.7,126.3 396.6,127.1 393.8,126.7 394.7,126.2 393.6,125.6 396.6,125.2 397.4,125.9ZM389.2,122.9 394.3,124.2 390.9,125 390.4,126.4 389.1,126.7 388.8,128.4 387,128.4 383.5,127.2 384.8,126.5 382.4,126 379.3,124.4 378,123 381.8,122.3 382.7,123 384.7,122.9 385.2,122.3 387.3,122.3ZM399.2,121.6 402.2,122.2 400.4,123.2 396.3,123.4 391.9,123.1 391.5,122.6 389.4,122.6 387.7,121.8 392,121.3 394.1,121.7 395.4,121.2Z"/>
<path d="M551.3,300.7 551,303.5 550.1,304.2 548.1,304.8 546.9,302.7 546.4,299 547.2,294.7 548.8,296.2 550,298Z"/>
</g>
<g fill="#fec44f" style="stroke:#333;stroke-opacity:0.5">
<path d="M232.4,199 233.8,199.3 235.7,199.3 234.4,200.3 233.5,200.5 231.3,199.4 231,198.5 232.1,197.7ZM238.3,192.4 237.3,192.5 234.9,191.7 233.5,190.5 234.3,190.3 236.7,190.9 238.3,192ZM112.8,194 111.6,194.3 109,193.2 109,192.3 107.8,191.4 108,190.7 106.2,190.2 106.5,188.8 107,188.3 108.7,188.8 109.7,189.2 111.4,189.4 111.4,190.3 111.6,191.5 112.9,192.6ZM251,188.5 248.9,190.7 250.5,189.8 251.7,190.3 250.7,191.2 252.3,191.9 253.4,191.3 255.2,192.1 254,193.9 255.5,193.5 255.4,194.9 255.6,196.4 254.2,198.7 253.2,198.8 252,198.3 253,196.2 252.5,195.9 249.6,198.1 248.4,198 250.1,196.8 248.4,196.2 246.1,196.4 242.2,196.3 242.1,195.5 243.6,194.6 243,193.9 245.2,192.4 248.5,188.4 250.2,186.9 252.2,186.1 253.1,186.2 252.5,186.9ZM104.3,179.7 105,180.1 107,179.9 104.1,182.7 104.2,184.7 103.4,184.7 103.1,183.6 103.3,182.4 103,181.6 103.5,180.5ZM219.7,160.4 218.3,161.7 217.6,161.4 217.6,160.7 217.7,160.6 218.9,159.9 219.6,159.9ZM215.8,159.1 212.9,160.4 211.6,160.4 211.7,159.7 213.7,158.6 216.1,158.7ZM214.5,152.3 214.2,153.3 215.3,152.9 215.9,153.5 217.3,154.3 218.9,155 218.3,156.1 219.7,156 220.5,156.7 218.5,157.5 216,156.9 215.7,155.9 213.2,157.1 209.8,158.3 210.1,156.9 207.6,157.2 209.9,156 211.4,154.2 213.4,152.1ZM232.8,148.9 230.8,149 231.1,147.9 232.7,146.6 234.4,146.3 235.4,147 234.8,147.9 234.4,148.2ZM202.5,144.5 200.8,145.3 199.1,144.6 197.5,144.9 196.1,143.9 198.2,143.2 200.2,142.3 201.4,142.9 202.1,143.3 202.2,143.7ZM211.8,143.7 209.9,145.9 213.6,144.2 214.5,145.6 212.7,147.3 213.2,148.8 216.2,147.2 218.9,145.3 220.8,142.8 223,143 225.2,143.3 226.7,144.4 226,145.5 223.9,146.7 224.3,147.9 223.3,149 218.9,150.6 216.2,150.9 214.9,150.2 213.6,151.4 210.6,153.3 209.4,154.3 206.2,155.9 203.6,156 201.5,157 200.3,158.5 198,158.8 194.4,160.7 190.6,163.4 188.6,165.3 186.6,168.1 189,168.5 188.4,170.7 188.1,172.6 191,172.1 193.9,173.1 195.3,174.1 195.9,175.2 197.9,175.9 199.4,177 202.5,177.1 204.5,177.3 203,179.5 202.3,182 202.3,184.8 204.1,187.1 206,186.3 208.3,183.8 209.2,179.8 208.5,178.5 212.2,177.3 215.3,175.6 217.2,173.9 217.9,172.3 217.7,170.2 216.5,168.4 220.1,165.9 220.5,163.7 222.1,160 223.6,159.5 226.3,160.1 228.1,160.4 229.9,159.7 231.2,160.5 232.6,161.9 232.7,162.8 235.9,163 234.8,165 233.9,168 235.4,168.4 236.1,169.8 239.4,168.5 242.4,165.8 244.2,164.7 244.6,166.9 245.7,169.9 246.5,172.9 245.1,174.4 247.1,175.8 248.2,177.2 251.1,177.8 252,178.6 252,180.7 253.4,181 253.9,182 253.1,184.8 251.3,185.7 249.6,186.6 246,187.5 242.8,189.6 239.3,190 235.2,189.5 232.2,189.4 230,189.6 227.7,191.4 224.7,192.6 220.6,195.9 217.4,198.3 219.3,197.8 223.7,194.5 228.7,192.4 231.8,192.1 233.2,193.4 230.7,195.1 230.4,197.8 230.5,199.8 232.7,201.1 236.3,200.7 239.2,197.8 238.8,199.7 239.8,200.6 236.8,202.3 231.7,203.8 229.4,204.8 226.5,206.7 224.9,206.5 225.5,204.3 229.8,202.2 226.5,202.3 224.1,202.6 223.2,201.2 224.4,197.6 223.7,196.9 222.2,197.3 221.7,196.7 219.5,198.6 218.2,200.6 217.1,201.8 216.1,202.2 215.3,202.3 214.9,202.9 211.1,202.9 208,203 206.9,203.4 204,205.3 203.7,205.5 202.6,206.5 200.7,206.5 198.7,206.5 197.6,206.9 197.7,207.4 197.6,208.2 197.5,208.5 194.3,209.7 191.9,210.1 189,211.5 188.5,211.5 187.9,211.1 187.8,210.7 187.9,210.5 188.8,209.6 190.3,208.2 191.5,206.6 191.9,204.4 192.4,202.1 190.8,200.8 191.2,200.4 191,200.1 190.5,200.1 190.2,199.7 190.4,199.1 189.8,199.3 189.3,199.3 189.6,199 189.2,198.7 189.3,198.1 188,197.3 186.8,196.4 185.2,195.4 183.7,194.5 181.6,195.2 180.9,195.2 178.7,194.6 176.9,194.9 175.3,194.1 173.5,193.7 172.1,193.6 171.7,193.1 172.1,191.7 171.4,191.8 170.9,192.7 166.7,192.7 159.8,192.7 152.9,192.7 146.9,192.7 140.8,192.7 134.9,192.7 128.7,192.7 126.7,192.7 120.7,192.7 115,192.7 114.7,192.7 112.5,190.2 111.9,189.1 109,188.1 109.6,185.9 111,184.3 109.3,183.3 110.6,181.3 109.8,179.5 110.8,178.2 112.9,177 114.2,175.4 112.3,173.9 112.9,171.1 113.3,169.4 112.6,168.3 112.3,167.3 112.6,166 109.9,166.8 106.8,168.1 106.7,166.6 106.5,165.5 105.4,164.9 103.6,164.8 118.2,151.5 128.1,143.2 130.6,143.7 131.9,144.8 133.5,145 136,144.1 138.9,143.4 141,143.6 144.6,142.7 148,142.2 148.1,143.1 149.9,142.5 151.5,141.5 152.4,141.7 152.9,143.7 156.8,142.2 155.2,143.9 157.6,143.5 159,142.9 160.8,143 162.4,143.9 165.5,144.7 167.4,145.1 169.2,145 170.4,146.1 166.9,147.2 169.5,147.7 174.3,147.4 176.1,147 176.7,148.4 179.6,147.2 178.8,146.3 180.6,145.5 182.7,145.4 184.3,145.2 185.1,145.7 185.8,146.9 187.8,146.8 189.9,147.8 192.9,147.4 195.3,147.5 196.3,146.1 198.1,145.7 200.1,146.4 198.4,148.6 200.9,146.8 202.2,146.9 204.8,144.6 204.2,143.2 203,142.4 205.2,140 208.6,138.4 210.4,138.8 211.2,139.7 211.4,142.2 209,143.2ZM180.7,135.9 178.8,136.9 183.1,136.2 184.1,137.3 187.1,136.2 187.8,136.9 186.9,139 188.7,138.1 189.8,136 191.6,135.6 192.8,136 193.7,136.8 192.6,138.9 191.6,140.4 193.3,141.5 195.4,142.5 194.3,143.5 191.4,143.7 191.7,144.5 190.4,145.3 187.7,145 185.4,144.4 183.3,144.5 179.4,145.3 174.8,145.6 171.7,145.8 171.8,144.7 170.1,144.1 168.3,144.4 168.1,142.7 169.5,142.4 172.4,142 174.6,142.2 177.2,141.8 174.5,141.3 170.8,141.4 168.5,141.4 168.5,140.6 173.2,139.7 170.7,139.8 168.5,139.2 171.7,137.6 173.8,136.8 179.5,135.5ZM196.8,135.3 193.9,136.7 193,135.2 193.9,134.9 196.1,134.8ZM241,135.9 240.7,136.5 239.1,136.4 237.4,136.4 235.4,136.7 235,136.6 234.2,135.5 234.9,134.7 235.8,134.6 239.2,134.8ZM224.8,135.8 225,137.1 227.9,135.4 232.6,134.6 233.6,136.7 232.2,138.1 235.9,137.5 238.1,136.7 240.8,137.8 242.3,138.8 241.9,139.7 245.3,139.2 246,140.6 249.5,141.4 250.4,142.3 250.7,144.3 247,145.4 250.1,146.8 252.6,147.3 253.9,149.4 256.5,149.5 255.2,151.1 250.8,153.8 249.1,152.8 247.6,150.6 245.2,150.9 244.2,152.2 245.3,153.5 247.2,154.6 247.6,155.2 247.5,157.5 246.1,159.2 244.1,158.5 240.7,156.7 242.1,158.7 243.3,160.1 243.1,160.9 238.7,160 235.6,158.6 234,157.5 235,156.8 233.1,155.7 231.2,154.5 230.8,155.2 225.5,155.6 224.5,154.8 226.7,153.1 230,153 233.8,152.8 233.7,151.9 235,150.8 238.5,148.6 238.7,147.6 238.5,146.8 236.6,145.8 233.7,145 235.1,144.4 234.3,143.1 232.9,142.9 232.1,142.2 230.8,142.9 227.6,143.1 221.9,142.6 218.9,142 216.5,141.7 215.7,140.9 218.2,139.9 215.9,139.9 217.3,137.8 220.2,135.9 222.6,135 227.2,134.5ZM204.3,134.4 205.7,134.8 208.8,134.6 208.6,135.2 206.1,136.2 207.7,137.1 205.6,139 202.2,139.8 200.8,139.6 200.4,138.8 198,137.2 198.7,136.5 201.7,136.8 201.4,135.4ZM213.5,136.6 210.3,138.2 208.5,138.1 209.3,136.3 210.3,135.2 212,134.4 214.1,133.8 217.4,133.9 219.9,134.4 215.8,136.2ZM166.3,139.6 160.8,140.6 161.1,139.7 158.6,138.5 160.4,137.6 163.4,136.1 166.6,134.7 166.7,133.5 172.4,133.1 174.1,133.6 178,133.7 178.8,134.3 179.4,135.1 176.8,135.7 171.1,137.2 167.4,138.6ZM217.3,132 215.6,132.8 213.5,132.7 212.2,132.2 214,131.2 216.9,130.7 217.4,131.4ZM213.7,128.5 213.8,129.5 212.7,130.5 210.3,132 207.5,132.2 206.2,131.9 207.6,130.7 204.9,130.9 206.6,129.3 208.2,129.4 211.3,128.7 213.3,128.8ZM197.7,129.6 197.4,130.3 199.2,130 200.7,130 199.7,131 197.7,132 192,132.3 187,133.2 184.5,133.3 185.2,132.6 189.5,131.7 182.2,131.9 180.5,131.6 185.3,129.6 187.5,129 190.8,129.7 192,130.9 194.5,131.1 194.8,129.1 197.1,128.4 198.4,128.6ZM220.4,127.8 221.3,128.4 224.3,128.4 224.9,129.1 223.7,129.8 225,130.3 225.5,130.8 227.5,130.8 229.6,131 232.5,130.6 235.7,130.4 238.1,130.6 239.1,131.3 238.7,132.2 237.2,132.7 234.5,133.2 232.7,132.9 227.9,133.2 224.7,133.3 222.4,133 218.9,132.3 219.5,131.2 220.4,130.2 219.8,129.3 216.9,129.1 215.9,128.5 217.4,127.7ZM189.5,126.7 187.2,128.2 185,128.9 183.5,129 179.4,129.9 176.5,130.2 175.1,129.7 179.8,128.3 184.8,127 187.1,127ZM222.6,127 221.9,127 219.2,126.9 219.4,126.4 222.4,126.4 223,126.8ZM198.6,126.6 195.1,127.2 193.8,126.6 195.8,126 198.3,125.8 200,126ZM201.8,124.9 199.5,125.3 197.1,125.3 197.5,125 199.8,124.4 200.5,124.5ZM220.9,125.9 218.2,126.3 217.5,125.9 217.8,125.2 218.7,124.4 220.5,124.5 221.2,124.6 222.1,125.2ZM215.3,125.4 214.8,126.2 212.7,126 211,125.4 207.9,125.3 210,124.8 208.9,124.3 209.8,123.6 212.3,123.9 215.3,124.5ZM237.3,123 238.4,123.5 235.8,124.1 231.5,125.5 228.7,125.6 225.9,125.4 225.3,124.6 226.1,124 227.9,123.5 225.2,123.5 224.4,122.9 224.5,122.1 226.5,121.3 228.2,120.8 229.8,120.7 229.7,120.3 233.1,120.2 233.7,121.1 235.7,121.5 237.6,121.8ZM269.6,117.3 273.1,117.4 275.8,117.6 278,118 277.5,118.4 273.5,119.1 269.9,119.4 268.2,119.8 271.3,119.8 267,120.8 264.3,121.3 260.4,122.7 257.2,123 255.9,123.4 251.3,123.6 253.1,123.8 251.7,124.1 252,125 250,125.7 247.2,126.2 245.7,127 243.1,127.6 242.8,128 245.5,127.9 245.1,128.4 239.9,129.6 236.4,129.1 231.6,129.4 229.6,129.1 226.9,129 227.7,128.1 231,127.6 231.8,126.2 232.8,126.1 235.9,126.9 235.2,125.7 233.2,125.3 235.2,124.6 238.3,124.2 239.5,123.5 238.2,122.8 238.7,121.9 242.5,122 243.4,122.2 246.4,121.5 243.4,121.3 238.3,121.4 236.5,120.9 236.2,120.2 235.2,119.7 235.6,119.2 238.1,118.8 239.7,118.8 242.8,118.5 245.5,118 247.1,118 248.1,118.5 250.2,117.6 252.3,117.4 254.9,117.2 259.1,117.2 259.7,117.3 263.9,117.1 266.7,117.2Z"/>
<path d="M649.3,188.3 654.9,192.8 651.2,191.9 652.8,195.6 656.6,198.2 657.9,200 655.2,198.5 655.2,200.5 653.4,198.3 651.8,195.8 649.5,193.1 648.5,191.2 645.9,187.8 642.7,185.3 639.9,181.9 640.7,180.8 638.9,179.6 639.4,179.3 641.4,180.9 644.2,183.3 646.3,185.8ZM407,179.4 403.4,179.4 401,179.1 401.3,178 403.8,177.2 405.9,177.6 406.8,178 406.7,178.7ZM61,150.2 61.4,150.7 63.3,149.1 67.5,149.4 67.9,151.5 64.8,152.5 61.6,152.8 58.5,155 57.1,155.5 55.5,155.4 55.3,154.6 53.9,154 54.9,153 53.7,152.6 51.3,152.9 51.5,152.1 53.1,151.2 50.2,151.8 49.4,152.9 47,153.8 60.5,144.9 62.1,146.5 63.2,148.8ZM658.6,140.8 657,140.9 655.6,140.2 656.1,139.3ZM69.5,140.6 67.2,140.8 69.7,139.3 70,139.2 71.4,139.2 72.7,139.8 72.1,140.1ZM591.8,135.7 589.4,135.7 585.8,135.5 585.4,135.4 585.7,134.5 587.4,134.4 590.8,135.1ZM597,131.8 596.5,132.6 593.7,132.5 589.5,131.7 588.8,131 592.1,131.3ZM586.6,130.9 587.8,132.4 582,132.3 580.2,132.8 575,131.5 573.6,130.1 575,129.7 579.2,129.8ZM457.6,141 456.7,141.2 451.2,140.9 450.2,140 447,139.4 446.2,138.2 447.6,137.8 447,136.6 449.2,134.8 447.6,134.6 450.3,132.8 449.3,131.8 452.1,130.8 456.2,129.5 461,129.1 463,128.4 465.8,128.1 467.5,128.9 466.9,129.5 462.3,130.5 458.3,131.5 454.7,133.4 453.6,135.5 452.2,137.5 453.5,139.2ZM524.2,128 525.9,129 526.7,128.5 531.1,128.6 535.9,129.5 538.1,130.3 539.1,131.3 538.2,131.9 535.4,133.1 535,133.7 537.3,134 540.2,134.5 541.2,134.1 543.6,135.4 543.6,134.9 545.8,134.6 551.3,134.9 552.8,135.9 559.9,136.2 558,134.6 561.8,135 564.3,135 568.3,136.1 570.8,137.4 571,138.3 575.1,140 578.7,140.9 577.5,138.6 581.3,139.6 583.4,139 587.4,139.7 587.8,139.1 590.9,139.4 587,137.4 587.9,136.5 604.4,137.8 607.6,139.1 614.2,140.7 620.2,140.3 624,140.7 626.7,141.6 628.8,143.2 631.7,143.8 633.3,143.4 636.2,143.3 640,143.7 642.8,143.5 648.6,145.4 649.7,144.7 646.2,143.3 645.4,142.4 651.7,143 654.9,142.8 661.4,143.9 665.3,144.9 678.8,153.8 678.8,153.9 678,154.9 675.4,154.7 678.7,155.9 682.5,157.8 684.2,158.5 685.7,159.4 686.1,160.1 682.1,159.6 679.4,161.3 678.1,161.6 677.5,163.3 676.7,164.7 677.4,165.8 672.7,164.2 670.2,166 668.3,165.1 667.7,166.2 664.9,165.8 666.1,167.4 666.6,169.8 667.8,170.7 670.5,171.3 674.2,174.8 672.6,174.9 673.9,177 675.9,178 673.8,179.3 676,182.2 673.7,182.8 675.6,185.3 674.9,187.6 672.5,185.9 668.2,182.3 661.7,176.8 659,173.3 659.1,171.9 657.9,170.8 660.2,170.2 660.2,167.2 660.5,164.7 661.5,162.8 658.8,159.5 656.8,159.7 658.2,161.6 656.7,164.2 651.7,161.3 648,162.1 648,166.1 651.1,167.6 647.7,168.2 645.1,168.5 643.3,166.7 640,166.3 639,167.5 632.9,167.1 627.5,167.8 626.1,172.6 624.1,178.4 627.4,178.7 629.7,180.2 632,180.8 632.2,179.5 634.5,179.7 639.7,182.4 641.6,184.6 642.2,187.1 644.4,190.1 646.6,194.1 646.2,197.8 646.7,199.6 645.9,202.6 645.1,205.5 644.7,207.1 642.8,208.6 641.5,208.6 639.4,207.4 637.8,209.3 638,210.1 637.4,209.7 636.6,208.4 637.6,208.3 636.1,205.2 634.1,203 635.3,202.1 638.1,202.6 637.9,200.1 636.7,197.3 636.9,196.3 636.3,194.1 633.5,194.8 632.4,195.8 629.4,195.8 626.9,193.4 623.3,191.6 619.2,190.8 616.7,188.3 614.8,186.8 613.3,185.7 610.2,183.2 607.7,182.3 604.2,181.5 601.7,181.6 599.6,182 598.9,183.3 600.4,183.9 601.4,185.3 600.9,186.1 601,188.7 601.7,189.8 600,191.4 596.9,190.5 594.7,190.7 593.1,189.8 591.7,189.6 589.9,191.4 587.5,191.8 586,192.4 583.2,192 581.4,192 579.4,190.7 576.7,189.5 574.5,189.2 572.2,189.5 570.6,190 567.1,188.9 565.6,187 562.9,186.4 560.9,186.1 558.1,185 557.6,187.6 559.2,189.1 558.2,190.9 555,190.2 552.9,190.2 551,189 548.8,188.9 546.7,188.2 544.3,189.4 541.6,191.5 539.6,192 538.9,192.2 537.1,190.6 534.7,191 533.4,189.9 531.7,189.4 530.1,187.9 528.7,187.5 526.2,188.2 522.8,186.7 522.3,188 514.9,181.7 511.5,179.7 511.8,179 508,181.3 506.3,181.4 505.8,180.1 502.9,179.2 501.1,179.8 499.4,177.3 495.6,176.7 494.4,177.8 490,178.7 489.3,179.3 482.3,180.1 481.8,181 483.8,182.7 482.2,183.4 482.8,184 481.4,185.3 485.2,187 485.1,188.2 482.3,188.1 482,188.8 479,187.5 475.9,187.6 474.1,188.6 471.4,187.6 466.5,185.9 463.4,185.9 460.1,188.7 460.4,190.5 457.9,189.1 457,191.8 457.7,192.3 457.1,194.3 459.2,196 460.7,195.9 462.4,197.6 462.5,198.9 463.7,199.4 463.1,200.9 461.2,201.3 459.7,204 462.2,206.4 462.3,208.1 465.3,211.2 464.3,212.2 464.1,212.9 463.1,212.7 461.3,211.1 460.7,211.1 459.3,210.5 458.4,209.4 456.3,208.9 455.1,209.3 454.7,208.8 451.6,207.5 448.4,207.1 446.6,206.7 446.4,207 443.3,204.8 440.7,203.8 438.7,202.3 440.1,201.9 441.4,199.8 440.1,198.7 442.9,197.7 442.7,197.2 441,197.6 440.8,196.4 441.7,195.7 443.7,195.5 443.8,194.7 443.1,193.3 443.6,191.9 443.4,191.2 440.3,190.4 439.1,190.4 437.6,189.2 436.2,189.6 433.5,188.7 433.4,188.3 432.5,187.1 430.9,187 430.5,186.2 430.9,185.7 429.4,184.3 427.4,184.6 426.8,184.4 426.4,185 425.6,184.9 424.8,183.3 424.2,182.5 424.6,182.2 426.1,182.3 426.8,181.8 426.1,181.1 424.7,180.7 424.7,180.2 423.8,179.8 422.3,178.2 422.6,177.5 422.2,176.3 420.2,175.7 419.2,176 418.8,175.4 416.7,174.8 415.8,173.4 415.4,172.2 414.4,171.6 415.1,170.9 414.1,168.6 415.1,167.2 414.8,166.8 416.6,165.5 414.4,164.3 417.7,161.3 419,159.9 419.4,158.7 416.4,157.1 416.8,155.6 414.8,153.9 415.5,151.9 412.8,149.4 414,147.7 411,146.2 410.9,144.6 412.2,144.4 414.8,143.5 416.3,142.8 419.4,144.1 424.2,144.6 431.4,147.1 433,148.2 433.7,149.7 432.2,150.9 429.5,151.5 421.3,149.8 420.1,150.1 423.4,151.7 423.8,152.8 424.6,155.1 427.1,155.8 428.6,156.4 428.5,155.3 427.2,154.3 428,153.5 432.7,154.9 434,154.3 432.3,152.6 435.6,150.4 437.2,150.5 439.1,151.3 439.6,149.8 437.6,148.4 438,147.1 436.2,145.7 441.2,146.4 442.7,147.7 440.6,147.9 441.1,149.2 442.8,150 445.2,149.5 445.1,148.1 448.2,147 453.2,145.1 454.6,145.2 453.5,146.5 455.7,146.8 456.6,146 459.7,145.9 461.8,145 464.4,146.4 465.5,144.9 463.1,143.6 463.6,142.9 468.8,143.6 471.6,144.3 479.1,146.8 479.6,145.6 477.2,144.5 476.8,144 474.7,143.8 474.6,142.7 472.7,141 472.2,140.3 474,138.4 473.7,136.5 474.6,136.1 479.3,136.6 480.5,137.8 480.1,139.5 481.6,140.2 483.1,141.7 484.7,144.7 487.4,146.1 487.6,147.6 486.2,150.8 488.4,151.1 488.6,150.3 490.1,149.7 489.9,148.6 490.7,147.5 488.9,146.2 488.7,144.8 486.8,144.6 485.6,143.4 485.4,141.2 482.1,139.4 484,138 482.5,136.5 483.3,136.5 485,137.6 485.8,139.7 487.9,140.1 486,138.5 488.1,137.7 491.4,137.6 495.3,138.8 492.5,137 490.5,134.8 492.9,134.4 496.8,134.5 499.9,134.2 497.7,133.1 498.2,131.8 499.9,131.7 501.9,130.7 505.7,130.4 505.6,129.9 509.4,129.7 511.1,130.1 513.3,129.1 516.2,129.1 515.6,128.3 515.9,127.4 518.4,126.6 521.9,127.3 520.4,127.7ZM518,125.5 510.6,126.2 510.1,123.7 511,123.5 512.2,123.6 517.4,124.7ZM435.6,121.4 433.8,121.6 432.6,121.8 432.6,122 431.2,122.3 429.3,121.9 429.8,121.4 426.6,121.3 429.2,121 431.3,121 431.9,121.5 432.5,121 433.6,120.8 436,121.1ZM509,124.4 506.1,124.6 501.4,124.1 498.1,123.4 495.4,122.1 493,121.8 495.2,120.6 497.7,120.2 501.6,121 507.2,122.7Z"/>
<path d="M440.9,212.4 444.1,213.4 446.5,213 448.4,213.3 450.6,211.9 452.9,211.8 455.1,213 455.7,214 455.7,215.2 457.4,215.8 458.4,216.6 457,217.4 458.2,220.3 458,221.2 459.5,223.2 458.5,223.7 457.6,223 455.1,222.7 454.2,223.1 451.8,223.5 450.7,223.4 448.3,224.4 446.5,224.4 445.3,223.9 443.1,224.7 442.3,224.2 442.4,225.6 441.8,226.2 441.3,226.8 440.4,225.6 441.1,224.6 439.8,224.8 437.9,224.2 436.6,225.7 433.3,226 431.4,224.6 429.1,224.5 428.7,225.6 427.3,225.9 425,224.5 422.7,224.6 421.1,222 419.4,220.5 420.2,218.5 418.7,217.3 420.8,214.8 424.1,214.7 424.7,212.7 428.8,213 431.1,211.4 433.5,210.6 436.9,210.6ZM420.6,214.1 419,215.5 418.1,214.3 418.1,213.7 418.6,213.4 419,211.8 418,211.1 420,210.3 421.9,210.7 422.2,211.7 424.2,212.5 423.9,213.1 421.4,213.3Z"/>
</g>
<g fill="#fe9929" style="stroke:#333;stroke-opacity:0.5">
<path d="M235.2,399.4 237.7,395.8 239.8,393.3 241.2,392.2 242.9,390.8 242.7,388.7 241.4,387.2 240.4,387.7 240.6,386.2 240.8,384.6 240.7,383.2 239.8,382.7 239,383.1 238.1,383 237.8,382 237.4,379.6 236.9,378.9 235.3,378.1 234.4,378.6 232,378.1 231.8,374.6 231,373.2 231.7,372.6 231.3,371.1 231.8,370 232.1,367.9 231.4,366.3 230.1,365.5 229.8,364.5 230,363 225.6,362.9 224.5,359.8 225.2,359.8 225.1,358.7 224.6,357.9 224.4,356.4 223,355.6 221.5,355.7 220.5,354.9 219,354.4 218,353.4 215.4,353 212.8,350.6 212.9,348.9 212.5,347.9 212.7,345.9 209.7,346.4 208.5,347.4 206.6,348.4 206.1,349.2 204.9,349.3 203.2,349 201.9,349.5 200.9,349.2 200.8,345.2 199,346.8 197,346.7 196,345.3 194.5,345.1 194.9,344 193.6,342.4 192.5,340.1 193.1,339.6 193.1,338.5 194.4,337.7 194.1,336.3 194.7,335.4 194.8,334.2 197.4,332.4 199.3,331.9 199.6,331.5 201.7,331.6 202.6,324.5 202.6,323.3 202.2,321.8 201.2,320.9 201.2,319 202.5,318.5 203,318.8 203.1,317.8 201.7,317.6 201.7,315.9 206.2,316 207,315.1 207.6,315.9 208,317.4 208.5,317.1 209.7,318.5 211.5,318.3 212,317.5 213.7,316.9 214.7,316.5 215,315.4 216.6,314.6 216.5,314.1 214.6,313.9 214.3,312.2 214.4,310.5 213.4,309.8 213.8,309.6 215.5,309.9 217.3,310.5 218,309.9 219.7,309.5 222.3,308.5 223.1,307.5 222.9,306.8 224.1,306.7 224.6,307.3 224.3,308.5 225,308.8 225.5,310 224.9,311 224.5,313.2 225,314.5 225.2,315.7 226.6,316.9 227.7,317.1 228,316.6 228.7,316.5 229.8,316 230.5,315.3 231.8,315.5 232.4,315.4 233.6,315.6 233.8,315.1 233.5,314.6 233.7,313.8 234.6,314.1 235.7,313.8 237.1,314.4 238,314.9 238.8,314.2 239.3,314.3 239.6,315 240.7,314.9 241.6,313.9 242.3,311.9 243.7,309.5 244.5,309.4 245.1,310.9 246.3,315.4 247.5,315.9 247.6,317.7 245.8,319.8 246.5,320.6 250.6,321 250.7,323.6 252.5,321.9 255.4,322.9 259.2,324.5 260.4,326 260,327.4 262.7,326.6 267.2,328 270.6,327.9 274.1,330.1 277.1,333 278.8,333.8 280.8,333.9 281.7,334.7 282.5,338 282.9,339.6 282.1,343.9 281,345.6 277.8,349.3 276.5,352.2 274.8,354.5 274.3,354.5 273.7,356.4 274.1,361.4 273.7,365.4 273.5,367.1 272.9,368.1 272.7,371.6 270.6,375 270.4,377.8 268.6,378.9 268.2,380.4 265.7,380.4 262.2,381.4 260.7,382.6 258.3,383.4 255.8,385.5 254.1,388.1 254,390 254.6,391.5 254.4,394.1 254.1,395.3 252.7,396.8 250.9,401.4 249.2,403.5 247.9,404.7 247.3,407.2 246.1,408.7 245.3,407.2 246,406 244.5,404.2 242.5,402.7 240,401 239.2,401.1 236.6,399.1Z"/>
<path d="M442.2,350.5 444,350.3 446.7,351 447.3,350.7 448.9,350.6 449.8,349.9 451.1,349.9 453.7,348.9 455.6,347.4 455.9,348.6 455.7,351.1 455.9,353.4 455.8,357.5 456.2,358.8 455.4,360.7 454.4,362.5 452.9,364.1 450.7,365.1 448.1,366.4 445.4,369.2 444.5,369.7 442.8,371.5 441.8,372.1 441.5,374 442.5,376 442.9,377.5 442.9,378.3 443.3,378.1 443,380.7 442.6,381.9 443.1,382.4 442.7,383.5 441.7,384.4 439.8,385.3 437,386.7 436,387.7 436.1,388.8 436.7,388.9 436.4,390.3 434.7,390.3 434.6,389.1 434.3,388 434.2,387 434.7,384.1 434.3,382.3 433.4,378.6 435.9,375.6 436.6,373.7 436.9,373.5 437.3,372 436.9,371.2 437.1,369.2 437.7,367.4 437.8,364.1 436.7,363.2 435.6,363.1 435.1,362.4 434.1,361.9 432.2,361.9 432.1,360.9 431.9,359.1 438.9,356.9 440.2,358.2 440.8,357.9 441.7,358.6 441.8,359.6 441.3,360.9 441.4,362.7 442.8,364.3 443.6,362.5 444.6,362 444.5,358.6 443.7,356.7 442.9,355.9 442.1,355.9 441.5,352.5Z"/>
<path d="M476.5,353 477.1,354.1 477.6,355.8 477.7,359 478.3,360.2 478,361.5 477.5,362.2 476.8,360.7 476.3,361.5 476.7,363.4 476.4,364.5 475.7,365.1 475.4,367.3 474.3,370.4 472.9,374 471.2,378.9 470,382.6 468.7,385.6 466.8,386.2 464.8,387.3 463.6,386.7 461.9,385.7 461.3,384.3 461.4,382 460.7,380 460.6,378.1 461.2,376.2 462.3,375.7 462.3,374.9 463.5,372.9 463.8,371.2 463.4,370 463.1,368.3 463,365.9 463.9,364.4 464.3,362.8 465.5,362.7 466.8,362.1 467.7,361.7 468.7,361.7 470,360.2 472,358.5 472.8,357.2 472.5,356.1 473.5,356.4 474.8,354.6 474.9,353.1 475.8,351.9Z"/>
</g>
<g fill="#d95f0e" style="stroke:#333;stroke-opacity:0.5">
<path d="M532,227.6 535.2,230.7 535.5,232.8 536.7,234.2 537,235.5 535.3,235.1 536.6,238 539.1,239.7 542.6,241.5 541.5,242.7 541.1,245.1 543.5,246.1 545.8,247.4 549,248.9 552.1,249.2 553.7,250.5 555.4,250.8 558.3,251.4 560.1,251.4 560.2,250.3 559.5,248.6 559.5,247.5 560.7,247 561.3,249 561.5,249.6 563.7,250.5 565,250.1 567,250.3 568.8,250.2 568.6,248.6 567.5,247.8 569.2,247.5 570.8,245.5 573,243.9 575,244.5 576.4,243.4 577.8,245 577.3,246.1 579.8,246.5 580.2,247.5 579.5,248 580.1,249.6 578.4,249.1 575.8,250.9 576.2,252.4 575.4,254.6 575.5,255.9 574.9,258.1 573,257.4 573.4,260.2 573,261.1 573.4,262.2 572.3,262.8 570.5,258.6 569.9,258.7 569.8,260.3 568.4,259 568.8,257.5 569.8,257.3 570.5,255.1 569.1,254.7 567,254.7 564.8,254.3 564.3,252.5 563.2,252.4 561.2,251.3 560.8,253 562.6,254.4 561.4,255.4 561,256.4 562.5,257.1 562.4,258.6 563.5,260.6 564.1,262.7 563.9,263.7 562.4,263.7 559.7,264.2 560,266.2 559,267.7 556,269.5 553.8,272.6 552.3,274.2 550.2,275.9 550.4,277.1 549.3,277.8 547.4,278.7 546.3,278.8 545.8,280.8 546.6,284.2 546.9,286.4 546.1,288.9 546.4,293.3 545.2,293.4 544.3,295.4 545,296.3 543,297.1 542.3,298.8 541.4,299.6 539.1,297.1 537.9,293.5 536.8,290.8 535.9,289.6 534.5,287.1 533.7,283.8 533.2,282.2 530.8,278.6 529.3,273.5 528.3,270.2 528,267 527.3,264.6 524.1,266.1 522.5,265.8 519.2,262.7 520.2,261.7 519.4,260.7 516.5,258.5 517.8,256.7 522.7,256.7 522,254.5 520.6,253.2 520,251.1 518.4,250 520.4,247.2 523,247.4 524.9,244.7 525.7,242 527.4,239.4 526.9,237.6 528.5,236 526.4,234.8 525.2,233 523.9,230.7 524.7,229.6 528.2,230.2 530.5,229.8Z"/>
</g>
<g fill="#993404" style="stroke:#333;stroke-opacity:0.5">
<path d="M613.7,271.6 612,272.8 610,272 609.6,269.8 610.5,268.6 612.8,267.9 614.2,267.9 614.8,268.9 614,270.1ZM619.2,190.8 623.3,191.6 626.9,193.4 629.4,195.8 632.4,195.8 633.5,194.8 636.3,194.1 636.9,196.3 636.7,197.3 637.9,200.1 638.1,202.6 635.3,202.1 634.1,203 636.1,205.2 637.6,208.3 636.6,208.4 637.4,209.7 635.1,208.1 635.2,209.6 632.6,210.7 633.7,212.1 631.8,212 630.3,211.2 629.9,213 628.3,214.4 627.5,216.1 624.9,216.8 623.9,218 621.9,218.7 622.5,217.5 621.6,216.5 622.3,214.8 620.5,213.4 619.1,214.3 617.7,216.1 617.2,217.8 615.1,218 614.6,219.1 616.5,220.9 618.5,221.3 619.1,222.5 621.1,223.3 622.7,221.4 625.1,222.4 626.5,222.5 627.5,223.9 624.7,224.6 624.3,226 622.7,227.3 622.4,229.1 625.3,230.6 627.2,233.1 629.4,235.5 631.6,237.6 632.3,239.5 631.1,240.2 632.1,241.6 633.7,242.4 634,244.5 634.1,246.6 632.9,246.8 632.1,249.7 631.2,253.1 629.8,256.2 627.2,258.7 624.5,260.8 622,261.1 620.8,262.3 619.9,261.4 618.8,262.8 615.9,264.1 613.6,264.5 613.3,267.2 612,267.4 611.1,265.5 611.5,264.5 608.3,263.6 607.3,264.1 604.9,263.4 603.7,262.3 603.8,260.8 601.6,260.3 600.4,259.4 598.7,260.7 596.5,261.1 594.8,261 593.6,261.7 592.5,262.1 593.3,265.1 592.1,265 591.8,264.4 591.6,263.3 590.1,264 589,263.6 587.2,262.6 587.5,260.4 586,259.9 585,257.5 582.7,257.9 582.4,254.8 584.1,252.6 583.8,250.5 583.3,248.5 582.2,247.9 581,246.3 579.8,246.5 577.3,246.1 577.8,245 576.4,243.4 575,244.5 573,243.9 570.8,245.5 569.2,247.5 567.5,247.8 566.4,247.1 565.2,247 563.5,246.4 562.4,247.1 561.3,249 560.7,247 559.5,247.5 556.8,247.3 554.2,246.7 552.1,245.5 550.3,245 549.3,243.8 548,243.4 545.3,241.7 543.4,240.9 542.6,241.5 539.1,239.7 536.6,238 535.3,235.1 537,235.5 536.7,234.2 535.5,232.8 535.2,230.7 532,227.6 528.1,226.6 527,224.5 525,223.3 524.5,222.6 523.7,221.1 523.5,220.1 522,219.5 521.4,219.7 520.2,217.4 520.6,216.8 520.1,216.2 521.7,214.9 523.1,214.4 525.4,214.8 525.7,213.1 528.3,212.8 528.7,211.8 531.5,210.4 531.6,209.8 530.9,208.3 532.1,207.6 528.5,203.2 532.2,202.1 533,201.6 532.6,197 537,197.8 537.6,196.7 536.6,194.1 538.2,193.9 538.9,192.2 539.6,192 541,193.7 543.3,195.1 546.7,196.1 549,198.1 549.6,201.1 550.8,202.2 553.4,202.6 556.4,203 559.6,204.6 561,204.9 563.1,207.3 565,208.8 567.2,208.7 571.9,209.3 574.5,209 576.7,209.4 580.6,210.9 583.1,210.9 584.4,211.7 586.2,210.4 589.2,209.4 592.3,209.3 594.3,208.4 595.1,207 596.1,206.2 595.3,205.3 594.1,204.3 594.3,202.7 595.6,202.9 598,203.4 599.3,202.1 601.9,201.1 602.4,199.4 603.5,198.7 606.2,198.3 608,198.6 607.7,197.7 604.8,195.9 602.6,195.1 601.6,196 599.4,195.7 598.4,196 597.3,194.9 597.2,192.4 596.9,190.5 600,191.4 601.7,189.8 601,188.7 600.9,186.1 601.4,185.3 600.4,183.9 598.9,183.3 599.6,182 601.7,181.6 604.2,181.5 607.7,182.3 610.2,183.2 613.3,185.7 614.8,186.8 616.7,188.3Z"/>
</g>
<g fill="none">
<path d="M221.3,378.6 221.9,375.4 221.8,374 222.7,371.7 226.6,371 228.7,371 230.9,372.3 231,373.2"/>
<path d="M382.5,196.5 382.5,197.1 382.3,197.6 384.2,198.1"/>
<path d="M390.4,193 391.8,193.7 393,192.7 393.8,192.7 395.3,193.5 396.2,193.2 397.2,193.7"/>
<path d="M397.2,193.7 397.1,194 397.4,195"/>
<path d="M397.4,195 397.3,196 396.1,196 396.5,196.5 396,198.1"/>
<path d="M397.2,193.7 397.5,193.2 398.3,193.2 399,193 399.4,192.7 399.6,192 400.3,191.5 400.9,191.7"/>
<path d="M397.4,195 398.5,195.5 399.3,195.8 400.9,195.5 401.1,195 401.9,195 402.8,194.5 403.1,194.8 403.9,194.5 404.4,193.7 405,193.7 407.3,194.5 407.7,194.3"/>
<path d="M403,202.4 402.3,201.7 401.6,200.6 403.2,199.9 404.4,200.1"/>
<path d="M410,209.9 409.1,209.9 408.3,210.2 407.9,209.9 406.7,210.4 406.5,211.2 406.3,210.9"/>
<path d="M406.7,210.4 408.1,209.9 408.5,209.7 408.6,208.9 408.2,208.9 407.7,208.4 407.5,207.8 406.4,207.3 406,207.6 405.9,208.4 405.4,208.4"/>
<path d="M375.3,190.4 374.9,189.9 374.5,189.9 374.4,191.5 374.8,191.7 375.4,191.5"/>
<path d="M416.9,194.8 417.4,194.3 418.6,194 420.3,194.8 421.2,195 422.1,195.8 422.2,196.5 422.9,197.1 423.5,198.1 424.1,198.6 424,199.1 424.5,199.4 424.1,199.6 422.8,199.4 422.6,199.1 422.2,199.4 422.2,199.6"/>
<path d="M351.9,255 367,266.5 367.7,267.9 369,268.4 369.9,268.9 370.2,270.5 372.7,270.2"/>
<path d="M372.7,270.2 372.7,276.2 371.1,279.6 369.1,280.1 366.1,280.4 365.2,281.3 363.8,281.4"/>
<path d="M363.8,281.4 362.2,281.4 361.8,280.9 360.4,281.2 358.3,282.2 357.9,283.3 356.1,284.3 355.8,285.1 354.9,285.6 353.7,285.1 353,285.9 352.8,287.7 351,289.8 351,290.6 350.3,291.6 350.5,293.2"/>
<path d="M363.8,281.4 363.6,282.8 363.8,283.8 365.2,285.6 365.2,286.7 367.9,287.5 367.9,289.3"/>
<path d="M394,284.8 393.8,282.8 394.8,279.4 397.6,277 397.7,273.6 398.5,268.2 398.9,267.1 398,266.3 398,265.5 397.1,264.7 396.5,260.5"/>
<path d="M372.7,270.2 375.8,269.2"/>
<path d="M398.1,301.1 398.4,300.3 400,300.8 400.4,300 400.9,300.3 401.4,300.8 404.2,299.7 405.3,298.7 406.4,297.9 406.2,296.9 406.8,296.6 409.1,296.9 411.2,295.6 412.8,292.7 413.9,291.7 415.5,291.4"/>
<path d="M417.9,297.9 418.6,297.7 419.5,299 420.7,300 420.7,300.8 422.3,302.2 423.3,303.4 424,305 425.6,305.8 426.1,306.8"/>
<path d="M441,295.7 440.7,298.4 439.5,298.4 438.8,300 440.3,300.3 441.4,301.6 441.9,302.6 442.9,303.1 444.3,306"/>
<path d="M434,311.3 434.9,310.5 436.5,311 438.3,310.5 440,310.5 441.3,309.4"/>
<path d="M431.2,323.8 431.7,324.1 433.1,323.3"/>
<path d="M429.8,327.7 431.2,328 431.9,326.4 433.3,326.7"/>
<path d="M438.3,344.5 439.2,345.8 439.9,347.8 439.4,348.6 438.9,350.7 439.3,352.8 438.5,353.9 437.8,356.2 438.9,356.9"/>
<path d="M438.3,344.5 440.4,345"/>
<path d="M420.5,366.7 423,366.9 423.7,367.5 424.4,367.2 425.8,365.6 427.9,363.5 428.6,363.3 428.9,362.2 430.3,361.2 432.1,360.9"/>
<path d="M420.5,366.7 421.1,368.8 421.8,369.3 422.4,370.9 424.8,373.7 425.7,374 425.6,375 426.2,376.6 428,376.9 429.3,378.2"/>
<path d="M343.5,248 333.7,248.2"/>
<path d="M475.2,290.6 475.4,295.6 472.9,299.5"/>
<path d="M481.3,212.5 483.6,212.5"/>
<path d="M506.2,222.6 507.5,222.6 509.2,223.4 509.9,223.7"/>
<path d="M509.9,223.7 509.2,223.4 509.8,220.6 508.8,218.7 507,218.2 507.3,216.9 509.1,217.2 509.7,215.6 509.9,214.1 512.6,213.3 512.6,214.6 513,215.4 513.9,215.4"/>
<path d="M513.9,215.4 515.6,215.6 517.7,213.5 515.3,213.3 514.8,212.2 513.6,213 511.6,212 512.9,210.2 512.1,209.9"/>
<path d="M513.9,215.4 513.2,215.9 511.2,217.2 511,215.6 513.2,215.9 516.2,217.7 520.2,217.4"/>
<path d="M509.9,223.7 511.4,222.9 512.1,223.2 512.5,222.1 513.8,222.1 514.2,221.9 514.1,220.8 514.7,219.8 515.9,220.3 515.9,221.1 516.6,221.3 517,223.4 518.1,224.5 518.8,223.9 519.6,223.7 520.8,222.4 522.1,222.6 524.5,222.6"/>
<path d="M441,235.7 440.3,235.4 440,237 440.5,237.3 440.1,237.8 439.9,238.3 441,238.1"/>
</g>
<g id="legend">
<rect x="185.600" y="537.400" width="48.200" height="11" fill="url(#hatch)" style="stroke:#bbb;stroke-width:0.7"/>
<rect x="253.200" y="537.400" width="68.300" height="11" fill="#ffffd4" style="stroke:none"/>
<rect x="321.500" y="537.400" width="68.500" height="11" fill="#fee391" style="stroke:none"/>
<rect x="390" y="537.400" width="68.500" height="11" fill="#fec44f" style="stroke:none"/>
<rect x="458.500" y="537.400" width="68.500" height="11" fill="#fe9929" style="stroke:none"/>
<rect x="527" y="537.400" width="68.500" height="11" fill="#d95f0e" style="stroke:none"/>
<path d="M595.500,537.400H659.400L664.300,542.900L659.400,548.400H595.500Z" fill="#993404" style="stroke:none"/>
<path d="M253.200,537.400H659.400L664.300,542.900L659.400,548.400H253.200Z" fill="none" style="stroke:#999;stroke-width:0.5"/>
<path d="M209.500,534.600V537.400M253.400,534.600V548.400M321.500,534.600V548.400M390,534.600V548.400M458.500,534.600V548.400M527,534.600V548.400M595.500,534.600V548.400" fill="none" style="stroke:#666;stroke-width:0.6"/>
</g>
</svg>
<div class="lg" style="left:209.500px;letter-spacing:0.45px">No data</div>
<div class="lg" style="left:253px">0 t</div>
<div class="lg" style="left:321.500px">3,000 t</div>
<div class="lg" style="left:390px">10,000 t</div>
<div class="lg" style="left:458.500px">30,000 t</div>
<div class="lg" style="left:527px">100,000 t</div>
<div class="lg" style="left:595.500px">300,000 t</div>
<div class="foot" style="left:16px;letter-spacing:-0.075px"><b style="letter-spacing:-0.4px">Data source:</b> Energy Institute - Statistical Review of World Energy (2025)</div>
<div class="foot" style="right:18px">OurWorldinData.org/fossil-fuels | CC BY</div>
</body></html>
